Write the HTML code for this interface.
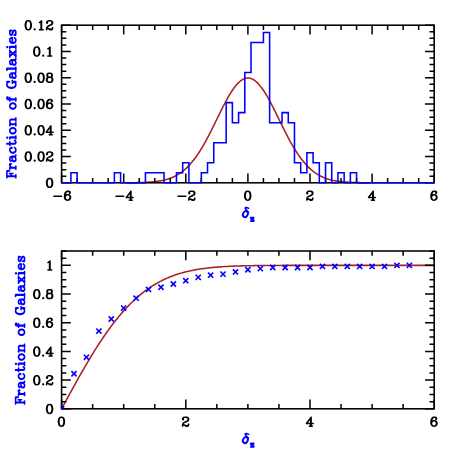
<!DOCTYPE html>
<html><head><meta charset="utf-8"><title>plot</title>
<style>html,body{margin:0;padding:0;background:#fff;}svg{display:block;}</style>
</head><body>
<svg width="458" height="458" viewBox="0 0 458 458">
<rect width="458" height="458" fill="#ffffff"/>
<polyline points="126.81,182.75 127.81,182.74 128.82,182.73 129.83,182.72 130.84,182.71 131.85,182.70 132.86,182.69 133.87,182.68 134.88,182.66 135.89,182.64 136.90,182.62 137.91,182.60 138.91,182.58 139.92,182.55 140.93,182.52 141.94,182.49 142.95,182.45 143.96,182.41 144.97,182.37 145.98,182.32 146.99,182.27 148.00,182.21 149.01,182.14 150.01,182.07 151.02,181.99 152.03,181.91 153.04,181.81 154.05,181.71 155.06,181.60 156.07,181.48 157.08,181.35 158.09,181.20 159.10,181.05 160.11,180.88 161.12,180.69 162.12,180.49 163.13,180.28 164.14,180.04 165.15,179.79 166.16,179.52 167.17,179.23 168.18,178.92 169.19,178.58 170.20,178.22 171.21,177.84 172.22,177.43 173.22,176.99 174.23,176.52 175.24,176.02 176.25,175.49 177.26,174.92 178.27,174.32 179.28,173.69 180.29,173.01 181.30,172.30 182.31,171.55 183.32,170.75 184.33,169.92 185.33,169.04 186.34,168.12 187.35,167.15 188.36,166.13 189.37,165.07 190.38,163.96 191.39,162.80 192.40,161.59 193.41,160.34 194.42,159.03 195.43,157.67 196.43,156.27 197.44,154.82 198.45,153.31 199.46,151.76 200.47,150.17 201.48,148.52 202.49,146.84 203.50,145.11 204.51,143.33 205.52,141.52 206.53,139.67 207.53,137.79 208.54,135.87 209.55,133.92 210.56,131.95 211.57,129.95 212.58,127.93 213.59,125.89 214.60,123.84 215.61,121.78 216.62,119.72 217.63,117.65 218.64,115.59 219.64,113.54 220.65,111.50 221.66,109.47 222.67,107.47 223.68,105.50 224.69,103.55 225.70,101.65 226.71,99.78 227.72,97.97 228.73,96.20 229.74,94.49 230.74,92.84 231.75,91.26 232.76,89.75 233.77,88.32 234.78,86.96 235.79,85.68 236.80,84.50 237.81,83.40 238.82,82.40 239.83,81.49 240.84,80.69 241.85,79.98 242.85,79.39 243.86,78.89 244.87,78.51 245.88,78.23 246.89,78.07 247.90,78.01 248.91,78.07 249.92,78.23 250.93,78.51 251.94,78.89 252.95,79.39 253.95,79.98 254.96,80.69 255.97,81.49 256.98,82.40 257.99,83.40 259.00,84.50 260.01,85.68 261.02,86.96 262.03,88.32 263.04,89.75 264.05,91.26 265.06,92.84 266.06,94.49 267.07,96.20 268.08,97.97 269.09,99.78 270.10,101.65 271.11,103.55 272.12,105.50 273.13,107.47 274.14,109.47 275.15,111.50 276.16,113.54 277.16,115.59 278.17,117.65 279.18,119.72 280.19,121.78 281.20,123.84 282.21,125.89 283.22,127.93 284.23,129.95 285.24,131.95 286.25,133.92 287.26,135.87 288.26,137.79 289.27,139.67 290.28,141.52 291.29,143.33 292.30,145.11 293.31,146.84 294.32,148.52 295.33,150.17 296.34,151.76 297.35,153.31 298.36,154.82 299.37,156.27 300.37,157.67 301.38,159.03 302.39,160.34 303.40,161.59 304.41,162.80 305.42,163.96 306.43,165.07 307.44,166.13 308.45,167.15 309.46,168.12 310.47,169.04 311.47,169.92 312.48,170.75 313.49,171.55 314.50,172.30 315.51,173.01 316.52,173.69 317.53,174.32 318.54,174.92 319.55,175.49 320.56,176.02 321.57,176.52 322.58,176.99 323.58,177.43 324.59,177.84 325.60,178.22 326.61,178.58 327.62,178.92 328.63,179.23 329.64,179.52 330.65,179.79 331.66,180.04 332.67,180.28 333.68,180.49 334.68,180.69 335.69,180.88 336.70,181.05 337.71,181.20 338.72,181.35 339.73,181.48 340.74,181.60 341.75,181.71 342.76,181.81 343.77,181.91 344.78,181.99 345.79,182.07 346.79,182.14 347.80,182.21 348.81,182.27 349.82,182.32 350.83,182.37 351.84,182.41 352.85,182.45 353.86,182.49 354.87,182.52 355.88,182.55 356.89,182.58 357.89,182.60 358.90,182.62 359.91,182.64 360.92,182.66 361.93,182.68 362.94,182.69 363.95,182.70 364.96,182.71 365.97,182.72 366.98,182.73 367.99,182.74 369.00,182.75" fill="none" stroke="#aa2024" stroke-width="1.55" stroke-linejoin="round"/>
<path d="M61.60 182.80v-9.2M61.60 25.20v9.2M77.12 182.80v-4.7M77.12 25.20v4.7M92.65 182.80v-4.7M92.65 25.20v4.7M108.17 182.80v-4.7M108.17 25.20v4.7M123.70 182.80v-9.2M123.70 25.20v9.2M139.22 182.80v-4.7M139.22 25.20v4.7M154.75 182.80v-4.7M154.75 25.20v4.7M170.28 182.80v-4.7M170.28 25.20v4.7M185.80 182.80v-9.2M185.80 25.20v9.2M201.32 182.80v-4.7M201.32 25.20v4.7M216.85 182.80v-4.7M216.85 25.20v4.7M232.37 182.80v-4.7M232.37 25.20v4.7M247.90 182.80v-9.2M247.90 25.20v9.2M263.42 182.80v-4.7M263.42 25.20v4.7M278.95 182.80v-4.7M278.95 25.20v4.7M294.47 182.80v-4.7M294.47 25.20v4.7M310.00 182.80v-9.2M310.00 25.20v9.2M325.53 182.80v-4.7M325.53 25.20v4.7M341.05 182.80v-4.7M341.05 25.20v4.7M356.57 182.80v-4.7M356.57 25.20v4.7M372.10 182.80v-9.2M372.10 25.20v9.2M387.62 182.80v-4.7M387.62 25.20v4.7M403.15 182.80v-4.7M403.15 25.20v4.7M418.68 182.80v-4.7M418.68 25.20v4.7M434.20 182.80v-9.2M434.20 25.20v9.2M61.60 182.80h9.2M434.20 182.80h-9.2M61.60 176.23h4.7M434.20 176.23h-4.7M61.60 169.67h4.7M434.20 169.67h-4.7M61.60 163.10h4.7M434.20 163.10h-4.7M61.60 156.53h9.2M434.20 156.53h-9.2M61.60 149.97h4.7M434.20 149.97h-4.7M61.60 143.40h4.7M434.20 143.40h-4.7M61.60 136.83h4.7M434.20 136.83h-4.7M61.60 130.27h9.2M434.20 130.27h-9.2M61.60 123.70h4.7M434.20 123.70h-4.7M61.60 117.13h4.7M434.20 117.13h-4.7M61.60 110.57h4.7M434.20 110.57h-4.7M61.60 104.00h9.2M434.20 104.00h-9.2M61.60 97.43h4.7M434.20 97.43h-4.7M61.60 90.87h4.7M434.20 90.87h-4.7M61.60 84.30h4.7M434.20 84.30h-4.7M61.60 77.73h9.2M434.20 77.73h-9.2M61.60 71.17h4.7M434.20 71.17h-4.7M61.60 64.60h4.7M434.20 64.60h-4.7M61.60 58.03h4.7M434.20 58.03h-4.7M61.60 51.47h9.2M434.20 51.47h-9.2M61.60 44.90h4.7M434.20 44.90h-4.7M61.60 38.33h4.7M434.20 38.33h-4.7M61.60 31.77h4.7M434.20 31.77h-4.7M61.60 25.20h9.2M434.20 25.20h-9.2" stroke="#000" stroke-width="1.5" fill="none"/>
<rect x="61.6" y="25.2" width="372.60" height="157.60" fill="none" stroke="#000" stroke-width="1.55"/>
<path d="M61.60 182.80L70.92 182.80L70.92 172.77L77.12 172.77L77.12 182.80L114.38 182.80L114.38 172.77L120.59 172.77L120.59 182.80L145.43 182.80L145.43 172.77L164.06 172.77L164.06 182.80L176.48 182.80L176.48 172.77L182.69 172.77L182.69 162.75L188.90 162.75L188.90 182.80L201.32 182.80L201.32 172.77L207.53 172.77L207.53 162.75L213.75 162.75L213.75 142.70L226.16 142.70L226.16 102.60L232.37 102.60L232.37 122.65L238.58 122.65L238.58 112.62L244.80 112.62L244.80 72.52L251.00 72.52L251.00 42.44L263.42 42.44L263.42 32.42L269.63 32.42L269.63 122.65L282.05 122.65L282.05 112.62L288.26 112.62L288.26 122.65L294.47 122.65L294.47 162.75L300.69 162.75L300.69 172.77L306.89 172.77L306.89 152.72L313.10 152.72L313.10 162.75L319.31 162.75L319.31 182.80L325.53 182.80L325.53 162.75L331.73 162.75L331.73 182.80L337.94 182.80L337.94 172.77L344.15 172.77L344.15 182.80L350.37 182.80L350.37 172.77L356.57 172.77L356.57 182.80L434.20 182.80" fill="none" stroke="#0000ff" stroke-width="1.55" stroke-linejoin="miter"/>
<polyline points="61.60,408.80 63.15,405.94 64.70,403.08 66.26,400.22 67.81,397.37 69.36,394.53 70.92,391.70 72.47,388.87 74.02,386.06 75.57,383.26 77.12,380.48 78.68,377.72 80.23,374.97 81.78,372.25 83.33,369.54 84.89,366.86 86.44,364.21 87.99,361.58 89.55,358.98 91.10,356.41 92.65,353.87 94.20,351.36 95.75,348.88 97.31,346.44 98.86,344.03 100.41,341.66 101.97,339.32 103.52,337.03 105.07,334.77 106.62,332.55 108.17,330.37 109.73,328.23 111.28,326.13 112.83,324.07 114.38,322.06 115.94,320.08 117.49,318.15 119.04,316.27 120.59,314.42 122.15,312.62 123.70,310.87 125.25,309.15 126.81,307.48 128.36,305.85 129.91,304.27 131.46,302.73 133.01,301.23 134.57,299.77 136.12,298.36 137.67,296.99 139.22,295.66 140.78,294.37 142.33,293.12 143.88,291.91 145.44,290.74 146.99,289.61 148.54,288.52 150.09,287.46 151.65,286.44 153.20,285.46 154.75,284.51 156.30,283.60 157.85,282.72 159.41,281.88 160.96,281.07 162.51,280.29 164.06,279.54 165.62,278.82 167.17,278.13 168.72,277.47 170.28,276.84 171.83,276.23 173.38,275.65 174.93,275.10 176.48,274.57 178.04,274.07 179.59,273.58 181.14,273.12 182.69,272.69 184.25,272.27 185.80,271.87 187.35,271.49 188.90,271.14 190.46,270.79 192.01,270.47 193.56,270.16 195.11,269.87 196.67,269.60 198.22,269.33 199.77,269.09 201.32,268.85 202.88,268.63 204.43,268.42 205.98,268.22 207.53,268.04 209.09,267.86 210.64,267.70 212.19,267.54 213.75,267.39 215.30,267.26 216.85,267.13 218.40,267.01 219.95,266.89 221.51,266.78 223.06,266.68 224.61,266.59 226.16,266.50 227.72,266.42 229.27,266.34 230.82,266.27 232.37,266.20 233.93,266.14 235.48,266.08 237.03,266.02 238.58,265.97 240.14,265.93 241.69,265.88 243.24,265.84 244.80,265.80 246.35,265.77 247.90,265.73 249.45,265.70 251.00,265.67 252.56,265.65 254.11,265.62 255.66,265.60 257.21,265.58 258.77,265.56 260.32,265.54 261.87,265.53 263.42,265.51 264.98,265.50 266.53,265.48 268.08,265.47 269.63,265.46 271.19,265.45 272.74,265.44 274.29,265.43 275.85,265.43 277.40,265.42 278.95,265.41 280.50,265.41 282.05,265.40 283.61,265.40 285.16,265.39 286.71,265.39 288.26,265.38 289.82,265.38 291.37,265.38 292.92,265.37 294.47,265.37 296.03,265.37 297.58,265.37 299.13,265.36 300.69,265.36 302.24,265.36 303.79,265.36 305.34,265.36 306.89,265.36 308.45,265.36 310.00,265.35 311.55,265.35 313.10,265.35 314.66,265.35 316.21,265.35 317.76,265.35 319.31,265.35 320.87,265.35 322.42,265.35 323.97,265.35 325.53,265.35 327.08,265.35 328.63,265.35 330.18,265.35 331.73,265.35 333.29,265.35 334.84,265.35 336.39,265.35 337.94,265.35 339.50,265.35 341.05,265.35 342.60,265.35 344.15,265.35 345.71,265.35 347.26,265.35 348.81,265.35 350.37,265.35 351.92,265.35 353.47,265.35 355.02,265.35 356.57,265.35 358.13,265.35 359.68,265.35 361.23,265.35 362.78,265.35 364.34,265.35 365.89,265.35 367.44,265.35 369.00,265.35 370.55,265.35 372.10,265.35 373.65,265.35 375.20,265.35 376.76,265.35 378.31,265.35 379.86,265.35 381.42,265.35 382.97,265.35 384.52,265.35 386.07,265.35 387.62,265.35 389.18,265.35 390.73,265.35 392.28,265.35 393.83,265.35 395.39,265.35 396.94,265.35 398.49,265.35 400.05,265.35 401.60,265.35 403.15,265.35 404.70,265.35 406.25,265.35 407.81,265.35 409.36,265.35 410.91,265.35 412.47,265.35 414.02,265.35 415.57,265.35 417.12,265.35 418.68,265.35 420.23,265.35 421.78,265.35 423.33,265.35 424.88,265.35 426.44,265.35 427.99,265.35 429.54,265.35 431.09,265.35 432.65,265.35 434.20,265.35" fill="none" stroke="#aa2024" stroke-width="1.55" stroke-linejoin="round"/>
<path d="M61.60 408.80v-9.2M61.60 251.00v9.2M92.65 408.80v-4.7M92.65 251.00v4.7M123.70 408.80v-4.7M123.70 251.00v4.7M154.75 408.80v-4.7M154.75 251.00v4.7M185.80 408.80v-9.2M185.80 251.00v9.2M216.85 408.80v-4.7M216.85 251.00v4.7M247.90 408.80v-4.7M247.90 251.00v4.7M278.95 408.80v-4.7M278.95 251.00v4.7M310.00 408.80v-9.2M310.00 251.00v9.2M341.05 408.80v-4.7M341.05 251.00v4.7M372.10 408.80v-4.7M372.10 251.00v4.7M403.15 408.80v-4.7M403.15 251.00v4.7M434.20 408.80v-9.2M434.20 251.00v9.2M61.60 408.80h9.2M434.20 408.80h-9.2M61.60 401.63h4.7M434.20 401.63h-4.7M61.60 394.45h4.7M434.20 394.45h-4.7M61.60 387.28h4.7M434.20 387.28h-4.7M61.60 380.11h9.2M434.20 380.11h-9.2M61.60 372.94h4.7M434.20 372.94h-4.7M61.60 365.76h4.7M434.20 365.76h-4.7M61.60 358.59h4.7M434.20 358.59h-4.7M61.60 351.42h9.2M434.20 351.42h-9.2M61.60 344.25h4.7M434.20 344.25h-4.7M61.60 337.07h4.7M434.20 337.07h-4.7M61.60 329.90h4.7M434.20 329.90h-4.7M61.60 322.73h9.2M434.20 322.73h-9.2M61.60 315.55h4.7M434.20 315.55h-4.7M61.60 308.38h4.7M434.20 308.38h-4.7M61.60 301.21h4.7M434.20 301.21h-4.7M61.60 294.04h9.2M434.20 294.04h-9.2M61.60 286.86h4.7M434.20 286.86h-4.7M61.60 279.69h4.7M434.20 279.69h-4.7M61.60 272.52h4.7M434.20 272.52h-4.7M61.60 265.35h9.2M434.20 265.35h-9.2M61.60 258.17h4.7M434.20 258.17h-4.7M61.60 251.00h4.7M434.20 251.00h-4.7" stroke="#000" stroke-width="1.5" fill="none"/>
<rect x="61.6" y="251.0" width="372.60" height="157.80" fill="none" stroke="#000" stroke-width="1.55"/>
<clipPath id="cb"><rect x="60.800000000000004" y="251.0" width="374.20" height="158.60"/></clipPath>
<path d="M59.00 406.20l5.2 5.2M59.00 411.40l5.2 -5.2M71.42 371.16l5.2 5.2M71.42 376.36l5.2 -5.2M83.84 354.73l5.2 5.2M83.84 359.93l5.2 -5.2M96.26 328.45l5.2 5.2M96.26 333.65l5.2 -5.2M108.68 316.40l5.2 5.2M108.68 321.60l5.2 -5.2M121.10 305.45l5.2 5.2M121.10 310.65l5.2 -5.2M133.52 295.60l5.2 5.2M133.52 300.80l5.2 -5.2M145.94 286.84l5.2 5.2M145.94 292.04l5.2 -5.2M158.36 284.65l5.2 5.2M158.36 289.85l5.2 -5.2M170.78 281.36l5.2 5.2M170.78 286.56l5.2 -5.2M183.20 278.08l5.2 5.2M183.20 283.28l5.2 -5.2M195.62 274.79l5.2 5.2M195.62 279.99l5.2 -5.2M208.04 272.60l5.2 5.2M208.04 277.80l5.2 -5.2M220.46 271.51l5.2 5.2M220.46 276.71l5.2 -5.2M232.88 269.32l5.2 5.2M232.88 274.52l5.2 -5.2M245.30 267.13l5.2 5.2M245.30 272.33l5.2 -5.2M257.72 266.03l5.2 5.2M257.72 271.23l5.2 -5.2M270.14 264.94l5.2 5.2M270.14 270.14l5.2 -5.2M282.56 264.94l5.2 5.2M282.56 270.14l5.2 -5.2M294.98 264.94l5.2 5.2M294.98 270.14l5.2 -5.2M307.40 264.94l5.2 5.2M307.40 270.14l5.2 -5.2M319.82 263.84l5.2 5.2M319.82 269.04l5.2 -5.2M332.24 263.84l5.2 5.2M332.24 269.04l5.2 -5.2M344.66 263.84l5.2 5.2M344.66 269.04l5.2 -5.2M357.08 263.84l5.2 5.2M357.08 269.04l5.2 -5.2M369.50 263.84l5.2 5.2M369.50 269.04l5.2 -5.2M381.92 263.84l5.2 5.2M381.92 269.04l5.2 -5.2M394.34 262.75l5.2 5.2M394.34 267.95l5.2 -5.2M406.76 262.75l5.2 5.2M406.76 267.95l5.2 -5.2" fill="none" stroke="#0000ff" stroke-width="1.6" clip-path="url(#cb)"/>
<defs>
<path id="t0" d="M3.59 -9.66L2.22 -9.16L1.91 -8.84L1.66 -8.41L1.09 -7.66L1.09 -7.53L0.97 -7.28L0.97 -7.03L0.91 -6.97L0.91 -6.72L0.84 -6.66L0.84 -6.41L0.78 -6.34L0.78 -6.09L0.72 -6.03L0.59 -5.16L0.53 -5.09L0.53 -3.78L0.59 -3.72L0.59 -3.47L0.66 -3.41L0.66 -3.16L0.72 -3.09L0.72 -2.84L0.78 -2.78L0.78 -2.53L0.84 -2.47L0.84 -2.22L0.91 -2.16L0.91 -1.91L0.97 -1.84L1.03 -1.41L1.59 -0.59L1.91 -0.03L2.28 0.22L2.34 0.34L2.47 0.34L3.47 0.72L3.78 0.72L3.84 0.78L4.72 0.78L4.78 0.72L5.09 0.72L5.16 0.66L6.22 0.34L6.66 0.03L6.97 -0.53L7.47 -1.22L7.47 -1.34L7.66 -1.66L7.66 -1.91L7.72 -1.97L7.72 -2.22L7.78 -2.28L7.78 -2.53L7.84 -2.59L7.84 -2.84L7.91 -2.91L7.91 -3.16L7.97 -3.22L7.97 -3.47L8.03 -3.53L8.03 -3.66L7.97 -3.72L8.03 -3.78L8.03 -5.09L7.97 -5.16L8.03 -5.22L8.03 -5.34L7.97 -5.41L7.97 -5.66L7.84 -5.97L7.84 -6.22L7.78 -6.28L7.66 -7.16L7.47 -7.53L7.47 -7.72L7.03 -8.28L6.66 -8.91L6.41 -9.16L5.03 -9.66L4.91 -9.59L4.78 -9.59L4.72 -9.66L3.84 -9.66L3.72 -9.59ZM3.97 -8.16L4.66 -8.16L5.03 -7.97L5.41 -7.59L5.78 -6.84L5.78 -6.59L5.84 -6.53L5.84 -6.28L5.91 -6.22L5.91 -5.97L5.97 -5.91L5.97 -5.66L6.03 -5.59L6.03 -5.34L6.09 -5.28L6.09 -3.66L6.03 -3.59L6.03 -3.34L5.97 -3.28L5.97 -3.03L5.91 -2.97L5.78 -2.09L5.41 -1.28L5.16 -1.03L4.59 -0.72L4.03 -0.72L3.41 -1.03L3.22 -1.22L2.84 -2.03L2.84 -2.28L2.78 -2.34L2.78 -2.59L2.72 -2.66L2.59 -3.53L2.47 -3.84L2.47 -5.03L2.53 -5.09L2.53 -5.34L2.59 -5.41L2.59 -5.66L2.66 -5.72L2.66 -5.97L2.72 -6.03L2.84 -6.91L3.22 -7.66L3.47 -7.91Z" fill-rule="evenodd"/>
<path id="t1" d="M10.72 -1.59L10.66 -1.53L10.47 -1.53L10.16 -1.34L9.72 -0.91L9.53 -0.41L9.59 -0.34L9.59 -0.16L9.78 0.09L9.72 0.16L10.09 0.53L10.22 0.53L10.34 0.66L10.66 0.72L10.72 0.78L10.78 0.72L10.97 0.72L11.28 0.53L11.66 0.16L11.84 -0.16L11.84 -0.34L11.91 -0.41L11.84 -0.47L11.78 -0.78L11.09 -1.47L10.78 -1.53ZM23.41 -9.28L22.97 -9.03L22.53 -8.59L21.97 -7.59L22.03 -7.53L21.91 -7.22L21.91 -6.78L21.97 -6.72L21.97 -6.53L22.53 -5.84L22.84 -5.66L23.03 -5.66L23.09 -5.59L23.16 -5.66L23.34 -5.66L23.47 -5.72L24.16 -6.41L24.22 -6.72L24.28 -6.78L24.22 -6.84L24.22 -7.03L24.03 -7.34L23.72 -7.66L24.03 -7.91L24.16 -7.91L24.78 -8.16L26.41 -8.16L26.91 -7.91L27.16 -7.66L27.47 -7.03L27.47 -6.53L27.28 -6.16L26.97 -5.84L26.22 -5.34L23.66 -4.09L22.53 -3.03L22.47 -2.84L22.34 -2.72L22.34 -2.59L21.97 -1.59L21.97 -1.28L21.91 -1.22L21.91 0.03L21.97 0.09L21.97 0.28L22.03 0.41L22.41 0.72L22.59 0.72L22.66 0.78L22.72 0.72L22.91 0.72L23.03 0.66L23.34 0.28L23.34 0.09L23.41 0.03L23.41 -0.41L23.47 -0.47L23.78 -0.47L24.34 -0.09L24.53 -0.03L24.66 0.09L24.84 0.16L24.97 0.28L25.16 0.34L25.28 0.47L25.47 0.53L25.59 0.66L25.78 0.66L26.09 0.78L27.78 0.78L27.84 0.72L28.03 0.72L28.34 0.53L28.72 0.16L28.72 0.09L28.91 -0.03L29.34 -0.97L29.34 -1.16L29.41 -1.22L29.41 -2.09L29.34 -2.16L29.28 -2.47L29.03 -2.72L28.72 -2.78L28.66 -2.84L28.59 -2.78L28.28 -2.72L27.97 -2.34L27.97 -2.16L27.91 -2.09L27.91 -1.59L27.72 -1.41L27.22 -1.16L26.16 -1.16L25.47 -1.47L25.34 -1.47L25.16 -1.59L25.03 -1.59L24.84 -1.72L24.72 -1.72L24.53 -1.84L24.41 -1.84L24.22 -1.97L24.16 -1.91L23.78 -1.97L23.72 -2.09L24.41 -2.78L25.28 -3.22L25.41 -3.22L25.59 -3.34L25.72 -3.34L25.91 -3.47L26.03 -3.47L26.22 -3.59L26.34 -3.59L26.53 -3.72L26.97 -3.84L27.47 -4.09L27.66 -4.28L28.66 -4.91L28.66 -4.97L28.91 -5.16L29.28 -5.91L29.34 -6.28L29.41 -6.34L29.41 -7.22L29.34 -7.28L29.28 -7.66L28.91 -8.41L28.34 -9.03L27.91 -9.28L27.78 -9.28L26.78 -9.66L26.66 -9.59L26.53 -9.66L24.78 -9.66L24.72 -9.59L24.59 -9.59L24.53 -9.66L24.47 -9.59ZM16.41 -9.66L15.03 -9.16L14.72 -8.84L14.47 -8.41L13.91 -7.66L13.91 -7.53L13.78 -7.28L13.78 -7.03L13.72 -6.97L13.59 -6.09L13.47 -5.78L13.41 -5.16L13.34 -5.09L13.34 -3.78L13.41 -3.72L13.41 -3.41L13.47 -3.34L13.47 -3.09L13.53 -3.03L13.53 -2.78L13.59 -2.72L13.59 -2.47L13.66 -2.41L13.78 -1.53L14.72 -0.03L15.09 0.22L15.16 0.34L15.28 0.34L16.28 0.72L16.59 0.72L16.66 0.78L17.53 0.78L17.59 0.72L17.91 0.72L17.97 0.66L19.03 0.34L19.47 0.03L19.66 -0.34L20.28 -1.22L20.28 -1.34L20.47 -1.72L20.47 -1.97L20.53 -2.03L20.53 -2.28L20.59 -2.34L20.59 -2.59L20.66 -2.66L20.66 -2.91L20.72 -2.97L20.72 -3.22L20.78 -3.28L20.78 -3.53L20.84 -3.59L20.78 -3.72L20.84 -3.78L20.84 -5.09L20.78 -5.16L20.84 -5.28L20.78 -5.34L20.78 -5.59L20.72 -5.66L20.72 -5.91L20.66 -5.97L20.66 -6.22L20.59 -6.28L20.47 -7.16L20.28 -7.53L20.28 -7.72L19.97 -8.09L19.47 -8.91L19.22 -9.16L17.84 -9.66L17.72 -9.59L17.59 -9.59L17.53 -9.66L16.66 -9.66L16.53 -9.59ZM16.78 -8.16L17.47 -8.16L17.84 -7.97L18.22 -7.59L18.59 -6.78L18.59 -6.53L18.66 -6.47L18.66 -6.22L18.72 -6.16L18.72 -5.91L18.78 -5.84L18.78 -5.59L18.84 -5.53L18.84 -5.28L18.91 -5.22L18.91 -3.66L18.78 -3.34L18.78 -3.09L18.72 -3.03L18.72 -2.78L18.66 -2.72L18.66 -2.47L18.59 -2.41L18.53 -1.91L18.22 -1.28L17.97 -1.03L17.41 -0.72L16.84 -0.72L16.22 -1.03L16.03 -1.22L15.66 -1.97L15.66 -2.22L15.59 -2.28L15.59 -2.53L15.53 -2.59L15.53 -2.84L15.47 -2.91L15.47 -3.16L15.41 -3.22L15.41 -3.47L15.34 -3.53L15.34 -3.78L15.28 -3.84L15.28 -5.09L15.34 -5.16L15.34 -5.41L15.41 -5.47L15.41 -5.72L15.47 -5.78L15.47 -6.03L15.53 -6.09L15.53 -6.34L15.59 -6.41L15.66 -6.91L16.03 -7.66L16.28 -7.91ZM3.59 -9.66L2.22 -9.16L1.91 -8.84L1.66 -8.41L1.09 -7.66L1.09 -7.53L0.97 -7.28L0.97 -7.03L0.91 -6.97L0.91 -6.72L0.84 -6.66L0.84 -6.41L0.78 -6.34L0.78 -6.09L0.72 -6.03L0.59 -5.16L0.53 -5.09L0.53 -3.78L0.59 -3.72L0.59 -3.47L0.66 -3.41L0.66 -3.16L0.72 -3.09L0.72 -2.84L0.78 -2.78L0.78 -2.53L0.84 -2.47L0.84 -2.22L0.91 -2.16L0.91 -1.91L0.97 -1.84L1.03 -1.41L1.59 -0.59L1.91 -0.03L2.28 0.22L2.34 0.34L2.47 0.34L3.47 0.72L3.78 0.72L3.84 0.78L4.72 0.78L4.78 0.72L5.09 0.72L5.16 0.66L6.22 0.34L6.66 0.03L6.97 -0.53L7.47 -1.22L7.47 -1.34L7.66 -1.66L7.66 -1.91L7.72 -1.97L7.72 -2.22L7.78 -2.28L7.78 -2.53L7.84 -2.59L7.84 -2.84L7.91 -2.91L7.91 -3.16L7.97 -3.22L7.97 -3.47L8.03 -3.53L8.03 -3.66L7.97 -3.72L8.03 -3.78L8.03 -5.09L7.97 -5.16L8.03 -5.22L8.03 -5.34L7.97 -5.41L7.97 -5.66L7.84 -5.97L7.84 -6.22L7.78 -6.28L7.66 -7.16L7.47 -7.53L7.47 -7.72L7.03 -8.28L6.66 -8.91L6.41 -9.16L5.03 -9.66L4.91 -9.59L4.78 -9.59L4.72 -9.66L3.84 -9.66L3.72 -9.59ZM3.97 -8.16L4.66 -8.16L5.03 -7.97L5.41 -7.59L5.78 -6.84L5.78 -6.59L5.84 -6.53L5.84 -6.28L5.91 -6.22L5.91 -5.97L5.97 -5.91L5.97 -5.66L6.03 -5.59L6.03 -5.34L6.09 -5.28L6.09 -3.66L6.03 -3.59L6.03 -3.34L5.97 -3.28L5.97 -3.03L5.91 -2.97L5.78 -2.09L5.41 -1.28L5.16 -1.03L4.59 -0.72L4.03 -0.72L3.41 -1.03L3.22 -1.22L2.84 -2.03L2.84 -2.28L2.78 -2.34L2.78 -2.59L2.72 -2.66L2.59 -3.53L2.47 -3.84L2.47 -5.03L2.53 -5.09L2.53 -5.34L2.59 -5.41L2.59 -5.66L2.66 -5.72L2.66 -5.97L2.72 -6.03L2.84 -6.91L3.22 -7.66L3.47 -7.91Z" fill-rule="evenodd"/>
<path id="t2" d="M10.72 -1.59L10.66 -1.53L10.47 -1.53L10.16 -1.34L9.72 -0.91L9.53 -0.41L9.59 -0.34L9.59 -0.16L9.78 0.09L9.72 0.16L10.09 0.53L10.22 0.53L10.34 0.66L10.66 0.72L10.72 0.78L10.78 0.72L10.97 0.72L11.28 0.53L11.66 0.16L11.84 -0.16L11.84 -0.34L11.91 -0.41L11.84 -0.47L11.78 -0.78L11.09 -1.47L10.78 -1.53ZM26.91 -9.66L26.84 -9.59L26.53 -9.53L26.22 -9.28L25.66 -8.53L25.53 -8.28L24.97 -7.59L24.84 -7.34L24.28 -6.66L24.16 -6.41L23.59 -5.72L23.47 -5.47L22.91 -4.78L22.78 -4.53L22.22 -3.84L22.09 -3.59L21.72 -3.16L21.47 -2.53L21.53 -2.47L21.59 -2.16L21.84 -1.91L22.16 -1.84L22.22 -1.78L25.72 -1.78L25.78 -1.72L25.78 -0.78L25.72 -0.72L25.22 -0.72L25.16 -0.66L24.84 -0.59L24.59 -0.34L24.53 -0.03L24.47 0.03L24.53 0.09L24.59 0.41L24.84 0.66L25.16 0.72L25.22 0.78L28.22 0.78L28.28 0.72L28.59 0.66L28.91 0.28L28.91 0.09L28.97 0.03L28.91 -0.03L28.91 -0.22L28.84 -0.34L28.47 -0.66L28.28 -0.66L28.22 -0.72L27.72 -0.72L27.66 -0.78L27.66 -1.72L27.72 -1.78L29.09 -1.78L29.16 -1.84L29.34 -1.84L29.72 -2.16L29.78 -2.47L29.84 -2.53L29.78 -2.59L29.72 -2.91L29.34 -3.22L29.16 -3.22L29.09 -3.28L27.72 -3.28L27.66 -3.34L27.66 -8.91L27.59 -8.97L27.53 -9.28L27.28 -9.53L26.97 -9.59ZM25.72 -5.97L25.78 -5.91L25.78 -3.34L25.72 -3.28L23.84 -3.28L23.78 -3.34ZM16.41 -9.66L15.03 -9.16L14.72 -8.84L14.47 -8.41L13.91 -7.66L13.91 -7.53L13.78 -7.28L13.78 -7.03L13.72 -6.97L13.59 -6.09L13.47 -5.78L13.41 -5.16L13.34 -5.09L13.34 -3.78L13.41 -3.72L13.41 -3.41L13.47 -3.34L13.47 -3.09L13.53 -3.03L13.53 -2.78L13.59 -2.72L13.59 -2.47L13.66 -2.41L13.78 -1.53L14.72 -0.03L15.09 0.22L15.16 0.34L15.28 0.34L16.28 0.72L16.59 0.72L16.66 0.78L17.53 0.78L17.59 0.72L17.91 0.72L17.97 0.66L19.03 0.34L19.47 0.03L19.66 -0.34L20.28 -1.22L20.28 -1.34L20.47 -1.72L20.47 -1.97L20.53 -2.03L20.53 -2.28L20.59 -2.34L20.59 -2.59L20.66 -2.66L20.66 -2.91L20.72 -2.97L20.72 -3.22L20.78 -3.28L20.78 -3.53L20.84 -3.59L20.78 -3.72L20.84 -3.78L20.84 -5.09L20.78 -5.16L20.84 -5.28L20.78 -5.34L20.78 -5.59L20.72 -5.66L20.72 -5.91L20.66 -5.97L20.66 -6.22L20.59 -6.28L20.47 -7.16L20.28 -7.53L20.28 -7.72L19.97 -8.09L19.47 -8.91L19.22 -9.16L17.84 -9.66L17.72 -9.59L17.59 -9.59L17.53 -9.66L16.66 -9.66L16.53 -9.59ZM16.78 -8.16L17.47 -8.16L17.84 -7.97L18.22 -7.59L18.59 -6.78L18.59 -6.53L18.66 -6.47L18.66 -6.22L18.72 -6.16L18.72 -5.91L18.78 -5.84L18.78 -5.59L18.84 -5.53L18.84 -5.28L18.91 -5.22L18.91 -3.66L18.78 -3.34L18.78 -3.09L18.72 -3.03L18.72 -2.78L18.66 -2.72L18.66 -2.47L18.59 -2.41L18.53 -1.91L18.22 -1.28L17.97 -1.03L17.41 -0.72L16.84 -0.72L16.22 -1.03L16.03 -1.22L15.66 -1.97L15.66 -2.22L15.59 -2.28L15.59 -2.53L15.53 -2.59L15.53 -2.84L15.47 -2.91L15.47 -3.16L15.41 -3.22L15.41 -3.47L15.34 -3.53L15.34 -3.78L15.28 -3.84L15.28 -5.09L15.34 -5.16L15.34 -5.41L15.41 -5.47L15.41 -5.72L15.47 -5.78L15.47 -6.03L15.53 -6.09L15.53 -6.34L15.59 -6.41L15.66 -6.91L16.03 -7.66L16.28 -7.91ZM3.59 -9.66L2.22 -9.16L1.91 -8.84L1.66 -8.41L1.09 -7.66L1.09 -7.53L0.97 -7.28L0.97 -7.03L0.91 -6.97L0.91 -6.72L0.84 -6.66L0.84 -6.41L0.78 -6.34L0.78 -6.09L0.72 -6.03L0.59 -5.16L0.53 -5.09L0.53 -3.78L0.59 -3.72L0.59 -3.47L0.66 -3.41L0.66 -3.16L0.72 -3.09L0.72 -2.84L0.78 -2.78L0.78 -2.53L0.84 -2.47L0.84 -2.22L0.91 -2.16L0.91 -1.91L0.97 -1.84L1.03 -1.41L1.59 -0.59L1.91 -0.03L2.28 0.22L2.34 0.34L2.47 0.34L3.47 0.72L3.78 0.72L3.84 0.78L4.72 0.78L4.78 0.72L5.09 0.72L5.16 0.66L6.22 0.34L6.66 0.03L6.97 -0.53L7.47 -1.22L7.47 -1.34L7.66 -1.66L7.66 -1.91L7.72 -1.97L7.72 -2.22L7.78 -2.28L7.78 -2.53L7.84 -2.59L7.84 -2.84L7.91 -2.91L7.91 -3.16L7.97 -3.22L7.97 -3.47L8.03 -3.53L8.03 -3.66L7.97 -3.72L8.03 -3.78L8.03 -5.09L7.97 -5.16L8.03 -5.22L8.03 -5.34L7.97 -5.41L7.97 -5.66L7.84 -5.97L7.84 -6.22L7.78 -6.28L7.66 -7.16L7.47 -7.53L7.47 -7.72L7.03 -8.28L6.66 -8.91L6.41 -9.16L5.03 -9.66L4.91 -9.59L4.78 -9.59L4.72 -9.66L3.84 -9.66L3.72 -9.59ZM3.97 -8.16L4.66 -8.16L5.03 -7.97L5.41 -7.59L5.78 -6.84L5.78 -6.59L5.84 -6.53L5.84 -6.28L5.91 -6.22L5.91 -5.97L5.97 -5.91L5.97 -5.66L6.03 -5.59L6.03 -5.34L6.09 -5.28L6.09 -3.66L6.03 -3.59L6.03 -3.34L5.97 -3.28L5.97 -3.03L5.91 -2.97L5.78 -2.09L5.41 -1.28L5.16 -1.03L4.59 -0.72L4.03 -0.72L3.41 -1.03L3.22 -1.22L2.84 -2.03L2.84 -2.28L2.78 -2.34L2.78 -2.59L2.72 -2.66L2.59 -3.53L2.47 -3.84L2.47 -5.03L2.53 -5.09L2.53 -5.34L2.59 -5.41L2.59 -5.66L2.66 -5.72L2.66 -5.97L2.72 -6.03L2.84 -6.91L3.22 -7.66L3.47 -7.91Z" fill-rule="evenodd"/>
<path id="t3" d="M10.72 -1.59L10.66 -1.53L10.47 -1.53L10.16 -1.34L9.72 -0.91L9.53 -0.41L9.59 -0.34L9.59 -0.16L9.78 0.09L9.72 0.16L10.09 0.53L10.22 0.53L10.34 0.66L10.66 0.72L10.72 0.78L10.78 0.72L10.97 0.72L11.28 0.53L11.66 0.16L11.84 -0.16L11.84 -0.34L11.91 -0.41L11.84 -0.47L11.78 -0.78L11.09 -1.47L10.78 -1.53ZM26.91 -9.66L25.66 -9.66L25.59 -9.59L25.47 -9.59L25.41 -9.66L25.34 -9.59L25.22 -9.59L25.16 -9.53L25.03 -9.53L24.97 -9.47L23.97 -9.16L22.97 -8.16L22.72 -7.78L22.41 -7.16L22.47 -7.09L22.34 -6.97L22.22 -6.28L22.09 -6.03L22.09 -5.84L22.03 -5.78L22.03 -5.59L21.91 -5.28L21.97 -5.22L21.91 -5.09L21.91 -2.53L21.97 -2.47L21.97 -2.16L22.03 -2.09L22.34 -1.03L22.47 -0.91L22.53 -0.72L23.41 0.16L23.47 0.09L23.66 0.22L23.72 0.34L23.84 0.34L24.84 0.72L25.16 0.72L25.22 0.78L26.09 0.78L26.16 0.72L26.47 0.72L26.53 0.66L27.59 0.34L27.59 0.28L27.84 0.09L27.91 0.16L28.84 -0.84L28.97 -1.09L28.97 -1.22L29.34 -2.22L29.34 -2.47L29.41 -2.53L29.34 -3.28L29.28 -3.34L28.97 -4.41L28.72 -4.78L27.91 -5.59L27.66 -5.72L27.59 -5.84L27.47 -5.84L26.47 -6.22L26.16 -6.22L26.09 -6.28L25.34 -6.22L24.16 -5.78L24.03 -5.84L24.09 -5.91L24.22 -6.59L24.47 -7.09L25.28 -7.91L25.78 -8.16L26.84 -8.16L27.03 -8.03L26.66 -7.47L26.66 -7.28L26.59 -7.22L26.66 -7.16L26.66 -6.97L26.72 -6.84L27.41 -6.16L27.53 -6.09L27.72 -6.09L27.78 -6.03L27.84 -6.09L28.16 -6.16L28.34 -6.28L28.84 -6.84L28.91 -7.16L28.97 -7.22L28.97 -7.66L28.91 -7.72L28.91 -7.97L28.47 -8.84L28.09 -9.22L27.34 -9.59L27.22 -9.53ZM25.72 -4.78L25.91 -4.78L26.41 -4.53L27.16 -3.78L27.41 -2.97L27.47 -2.91L27.47 -2.59L27.41 -2.53L27.16 -1.66L26.53 -1.03L25.91 -0.72L25.41 -0.72L24.78 -1.03L24.16 -1.66L24.16 -1.78L23.84 -2.59L23.84 -2.91L23.91 -2.97L24.16 -3.78L24.84 -4.47L25.66 -4.72ZM16.41 -9.66L15.03 -9.16L14.72 -8.84L14.47 -8.41L13.91 -7.66L13.91 -7.53L13.78 -7.28L13.78 -7.03L13.72 -6.97L13.59 -6.09L13.47 -5.78L13.41 -5.16L13.34 -5.09L13.34 -3.78L13.41 -3.72L13.41 -3.41L13.47 -3.34L13.47 -3.09L13.53 -3.03L13.53 -2.78L13.59 -2.72L13.59 -2.47L13.66 -2.41L13.78 -1.53L14.72 -0.03L15.09 0.22L15.16 0.34L15.28 0.34L16.28 0.72L16.59 0.72L16.66 0.78L17.53 0.78L17.59 0.72L17.91 0.72L17.97 0.66L19.03 0.34L19.47 0.03L19.66 -0.34L20.28 -1.22L20.28 -1.34L20.47 -1.72L20.47 -1.97L20.53 -2.03L20.53 -2.28L20.59 -2.34L20.59 -2.59L20.66 -2.66L20.66 -2.91L20.72 -2.97L20.72 -3.22L20.78 -3.28L20.78 -3.53L20.84 -3.59L20.78 -3.72L20.84 -3.78L20.84 -5.09L20.78 -5.16L20.84 -5.28L20.78 -5.34L20.78 -5.59L20.72 -5.66L20.72 -5.91L20.66 -5.97L20.66 -6.22L20.59 -6.28L20.47 -7.16L20.28 -7.53L20.28 -7.72L19.97 -8.09L19.47 -8.91L19.22 -9.16L17.84 -9.66L17.72 -9.59L17.59 -9.59L17.53 -9.66L16.66 -9.66L16.53 -9.59ZM16.78 -8.16L17.47 -8.16L17.84 -7.97L18.22 -7.59L18.59 -6.78L18.59 -6.53L18.66 -6.47L18.66 -6.22L18.72 -6.16L18.72 -5.91L18.78 -5.84L18.78 -5.59L18.84 -5.53L18.84 -5.28L18.91 -5.22L18.91 -3.66L18.78 -3.34L18.78 -3.09L18.72 -3.03L18.72 -2.78L18.66 -2.72L18.66 -2.47L18.59 -2.41L18.53 -1.91L18.22 -1.28L17.97 -1.03L17.41 -0.72L16.84 -0.72L16.22 -1.03L16.03 -1.22L15.66 -1.97L15.66 -2.22L15.59 -2.28L15.59 -2.53L15.53 -2.59L15.53 -2.84L15.47 -2.91L15.47 -3.16L15.41 -3.22L15.41 -3.47L15.34 -3.53L15.34 -3.78L15.28 -3.84L15.28 -5.09L15.34 -5.16L15.34 -5.41L15.41 -5.47L15.41 -5.72L15.47 -5.78L15.47 -6.03L15.53 -6.09L15.53 -6.34L15.59 -6.41L15.66 -6.91L16.03 -7.66L16.28 -7.91ZM3.59 -9.66L2.22 -9.16L1.91 -8.84L1.66 -8.41L1.09 -7.66L1.09 -7.53L0.97 -7.28L0.97 -7.03L0.91 -6.97L0.91 -6.72L0.84 -6.66L0.84 -6.41L0.78 -6.34L0.78 -6.09L0.72 -6.03L0.59 -5.16L0.53 -5.09L0.53 -3.78L0.59 -3.72L0.59 -3.47L0.66 -3.41L0.66 -3.16L0.72 -3.09L0.72 -2.84L0.78 -2.78L0.78 -2.53L0.84 -2.47L0.84 -2.22L0.91 -2.16L0.91 -1.91L0.97 -1.84L1.03 -1.41L1.59 -0.59L1.91 -0.03L2.28 0.22L2.34 0.34L2.47 0.34L3.47 0.72L3.78 0.72L3.84 0.78L4.72 0.78L4.78 0.72L5.09 0.72L5.16 0.66L6.22 0.34L6.66 0.03L6.97 -0.53L7.47 -1.22L7.47 -1.34L7.66 -1.66L7.66 -1.91L7.72 -1.97L7.72 -2.22L7.78 -2.28L7.78 -2.53L7.84 -2.59L7.84 -2.84L7.91 -2.91L7.91 -3.16L7.97 -3.22L7.97 -3.47L8.03 -3.53L8.03 -3.66L7.97 -3.72L8.03 -3.78L8.03 -5.09L7.97 -5.16L8.03 -5.22L8.03 -5.34L7.97 -5.41L7.97 -5.66L7.84 -5.97L7.84 -6.22L7.78 -6.28L7.66 -7.16L7.47 -7.53L7.47 -7.72L7.03 -8.28L6.66 -8.91L6.41 -9.16L5.03 -9.66L4.91 -9.59L4.78 -9.59L4.72 -9.66L3.84 -9.66L3.72 -9.59ZM3.97 -8.16L4.66 -8.16L5.03 -7.97L5.41 -7.59L5.78 -6.84L5.78 -6.59L5.84 -6.53L5.84 -6.28L5.91 -6.22L5.91 -5.97L5.97 -5.91L5.97 -5.66L6.03 -5.59L6.03 -5.34L6.09 -5.28L6.09 -3.66L6.03 -3.59L6.03 -3.34L5.97 -3.28L5.97 -3.03L5.91 -2.97L5.78 -2.09L5.41 -1.28L5.16 -1.03L4.59 -0.72L4.03 -0.72L3.41 -1.03L3.22 -1.22L2.84 -2.03L2.84 -2.28L2.78 -2.34L2.78 -2.59L2.72 -2.66L2.59 -3.53L2.47 -3.84L2.47 -5.03L2.53 -5.09L2.53 -5.34L2.59 -5.41L2.59 -5.66L2.66 -5.72L2.66 -5.97L2.72 -6.03L2.84 -6.91L3.22 -7.66L3.47 -7.91Z" fill-rule="evenodd"/>
<path id="t4" d="M10.72 -1.59L10.66 -1.53L10.47 -1.53L10.16 -1.34L9.72 -0.91L9.53 -0.41L9.59 -0.34L9.59 -0.16L9.78 0.09L9.72 0.16L10.09 0.53L10.22 0.53L10.34 0.66L10.66 0.72L10.72 0.78L10.78 0.72L10.97 0.72L11.28 0.53L11.66 0.16L11.84 -0.16L11.84 -0.34L11.91 -0.41L11.84 -0.47L11.78 -0.78L11.09 -1.47L10.78 -1.53ZM24.53 -9.66L23.16 -9.16L22.84 -8.84L22.41 -7.97L22.41 -7.72L22.34 -7.66L22.34 -6.34L22.41 -6.28L22.41 -6.03L22.84 -5.22L22.84 -5.09L22.53 -4.78L22.59 -4.72L22.41 -4.59L21.97 -3.72L21.97 -3.47L21.91 -3.41L21.91 -1.66L21.97 -1.59L21.97 -1.34L22.41 -0.47L22.59 -0.34L22.53 -0.28L22.97 0.16L23.03 0.09L23.22 0.22L23.28 0.34L23.41 0.34L24.41 0.72L24.72 0.72L24.78 0.78L26.53 0.78L26.59 0.72L26.84 0.72L27.84 0.34L28.03 0.34L28.03 0.28L28.28 0.09L28.34 0.16L28.72 -0.34L28.91 -0.47L29.28 -1.22L29.34 -1.59L29.41 -1.66L29.41 -3.41L29.34 -3.47L29.34 -3.66L28.91 -4.59L28.72 -4.72L28.72 -4.84L28.47 -5.09L28.47 -5.22L28.91 -6.03L28.91 -6.28L28.97 -6.34L28.97 -7.66L28.91 -7.72L28.91 -7.97L28.47 -8.84L28.16 -9.16L27.91 -9.28L27.78 -9.28L26.78 -9.66L26.66 -9.59L26.53 -9.66L24.78 -9.66L24.72 -9.59L24.59 -9.59ZM24.34 -4.03L24.97 -4.34L26.34 -4.34L26.97 -4.03L27.16 -3.84L27.47 -3.22L27.47 -1.84L27.16 -1.22L26.97 -1.03L26.34 -0.72L24.97 -0.72L24.34 -1.03L24.16 -1.22L23.84 -1.84L23.84 -3.22L24.16 -3.84ZM24.47 -7.91L24.91 -8.16L26.41 -8.16L26.78 -7.97L27.03 -7.53L27.03 -6.53L26.84 -6.16L26.72 -6.03L26.34 -5.84L24.97 -5.84L24.59 -6.03L24.41 -6.22L24.28 -6.47L24.28 -7.53ZM16.41 -9.66L15.03 -9.16L14.72 -8.84L14.47 -8.41L13.91 -7.66L13.91 -7.53L13.78 -7.28L13.78 -7.03L13.72 -6.97L13.59 -6.09L13.47 -5.78L13.41 -5.16L13.34 -5.09L13.34 -3.78L13.41 -3.72L13.41 -3.41L13.47 -3.34L13.47 -3.09L13.53 -3.03L13.53 -2.78L13.59 -2.72L13.59 -2.47L13.66 -2.41L13.78 -1.53L14.72 -0.03L15.09 0.22L15.16 0.34L15.28 0.34L16.28 0.72L16.59 0.72L16.66 0.78L17.53 0.78L17.59 0.72L17.91 0.72L17.97 0.66L19.03 0.34L19.47 0.03L19.66 -0.34L20.28 -1.22L20.28 -1.34L20.47 -1.72L20.47 -1.97L20.53 -2.03L20.53 -2.28L20.59 -2.34L20.59 -2.59L20.66 -2.66L20.66 -2.91L20.72 -2.97L20.72 -3.22L20.78 -3.28L20.78 -3.53L20.84 -3.59L20.78 -3.72L20.84 -3.78L20.84 -5.09L20.78 -5.16L20.84 -5.28L20.78 -5.34L20.78 -5.59L20.72 -5.66L20.72 -5.91L20.66 -5.97L20.66 -6.22L20.59 -6.28L20.47 -7.16L20.28 -7.53L20.28 -7.72L19.97 -8.09L19.47 -8.91L19.22 -9.16L17.84 -9.66L17.72 -9.59L17.59 -9.59L17.53 -9.66L16.66 -9.66L16.53 -9.59ZM16.78 -8.16L17.47 -8.16L17.84 -7.97L18.22 -7.59L18.59 -6.78L18.59 -6.53L18.66 -6.47L18.66 -6.22L18.72 -6.16L18.72 -5.91L18.78 -5.84L18.78 -5.59L18.84 -5.53L18.84 -5.28L18.91 -5.22L18.91 -3.66L18.78 -3.34L18.78 -3.09L18.72 -3.03L18.72 -2.78L18.66 -2.72L18.66 -2.47L18.59 -2.41L18.53 -1.91L18.22 -1.28L17.97 -1.03L17.41 -0.72L16.84 -0.72L16.22 -1.03L16.03 -1.22L15.66 -1.97L15.66 -2.22L15.59 -2.28L15.59 -2.53L15.53 -2.59L15.53 -2.84L15.47 -2.91L15.47 -3.16L15.41 -3.22L15.41 -3.47L15.34 -3.53L15.34 -3.78L15.28 -3.84L15.28 -5.09L15.34 -5.16L15.34 -5.41L15.41 -5.47L15.41 -5.72L15.47 -5.78L15.47 -6.03L15.53 -6.09L15.53 -6.34L15.59 -6.41L15.66 -6.91L16.03 -7.66L16.28 -7.91ZM3.59 -9.66L2.22 -9.16L1.91 -8.84L1.66 -8.41L1.09 -7.66L1.09 -7.53L0.97 -7.28L0.97 -7.03L0.91 -6.97L0.91 -6.72L0.84 -6.66L0.84 -6.41L0.78 -6.34L0.78 -6.09L0.72 -6.03L0.59 -5.16L0.53 -5.09L0.53 -3.78L0.59 -3.72L0.59 -3.47L0.66 -3.41L0.66 -3.16L0.72 -3.09L0.72 -2.84L0.78 -2.78L0.78 -2.53L0.84 -2.47L0.84 -2.22L0.91 -2.16L0.91 -1.91L0.97 -1.84L1.03 -1.41L1.59 -0.59L1.91 -0.03L2.28 0.22L2.34 0.34L2.47 0.34L3.47 0.72L3.78 0.72L3.84 0.78L4.72 0.78L4.78 0.72L5.09 0.72L5.16 0.66L6.22 0.34L6.66 0.03L6.97 -0.53L7.47 -1.22L7.47 -1.34L7.66 -1.66L7.66 -1.91L7.72 -1.97L7.72 -2.22L7.78 -2.28L7.78 -2.53L7.84 -2.59L7.84 -2.84L7.91 -2.91L7.91 -3.16L7.97 -3.22L7.97 -3.47L8.03 -3.53L8.03 -3.66L7.97 -3.72L8.03 -3.78L8.03 -5.09L7.97 -5.16L8.03 -5.22L8.03 -5.34L7.97 -5.41L7.97 -5.66L7.84 -5.97L7.84 -6.22L7.78 -6.28L7.66 -7.16L7.47 -7.53L7.47 -7.72L7.03 -8.28L6.66 -8.91L6.41 -9.16L5.03 -9.66L4.91 -9.59L4.78 -9.59L4.72 -9.66L3.84 -9.66L3.72 -9.59ZM3.97 -8.16L4.66 -8.16L5.03 -7.97L5.41 -7.59L5.78 -6.84L5.78 -6.59L5.84 -6.53L5.84 -6.28L5.91 -6.22L5.91 -5.97L5.97 -5.91L5.97 -5.66L6.03 -5.59L6.03 -5.34L6.09 -5.28L6.09 -3.66L6.03 -3.59L6.03 -3.34L5.97 -3.28L5.97 -3.03L5.91 -2.97L5.78 -2.09L5.41 -1.28L5.16 -1.03L4.59 -0.72L4.03 -0.72L3.41 -1.03L3.22 -1.22L2.84 -2.03L2.84 -2.28L2.78 -2.34L2.78 -2.59L2.72 -2.66L2.59 -3.53L2.47 -3.84L2.47 -5.03L2.53 -5.09L2.53 -5.34L2.59 -5.41L2.59 -5.66L2.66 -5.72L2.66 -5.97L2.72 -6.03L2.84 -6.91L3.22 -7.66L3.47 -7.91Z" fill-rule="evenodd"/>
<path id="t5" d="M10.72 -1.59L10.66 -1.53L10.47 -1.53L10.16 -1.34L9.72 -0.91L9.53 -0.41L9.59 -0.34L9.59 -0.16L9.78 0.09L9.72 0.16L10.09 0.53L10.22 0.53L10.34 0.66L10.66 0.72L10.72 0.78L10.78 0.72L10.97 0.72L11.28 0.53L11.66 0.16L11.84 -0.16L11.84 -0.34L11.91 -0.41L11.84 -0.47L11.78 -0.78L11.09 -1.47L10.78 -1.53ZM17.53 -9.66L17.03 -9.47L15.84 -8.28L15.09 -7.91L14.78 -7.59L14.72 -7.28L14.66 -7.22L14.72 -7.16L14.78 -6.84L15.16 -6.53L15.34 -6.53L15.41 -6.47L15.47 -6.53L15.72 -6.53L16.28 -6.84L16.34 -6.78L16.34 -0.78L16.28 -0.72L15.41 -0.72L15.34 -0.66L15.16 -0.66L14.78 -0.34L14.72 -0.03L14.66 0.03L14.72 0.09L14.78 0.41L15.03 0.66L15.34 0.72L15.41 0.78L19.22 0.78L19.28 0.72L19.59 0.66L19.84 0.41L19.91 0.09L19.97 0.03L19.91 -0.03L19.84 -0.34L19.47 -0.66L19.28 -0.66L19.22 -0.72L18.34 -0.72L18.28 -0.78L18.28 -8.91L18.22 -8.97L18.16 -9.28L17.91 -9.53L17.59 -9.59ZM3.59 -9.66L2.22 -9.16L1.91 -8.84L1.66 -8.41L1.09 -7.66L1.09 -7.53L0.97 -7.28L0.97 -7.03L0.91 -6.97L0.91 -6.72L0.84 -6.66L0.84 -6.41L0.78 -6.34L0.78 -6.09L0.72 -6.03L0.59 -5.16L0.53 -5.09L0.53 -3.78L0.59 -3.72L0.59 -3.47L0.66 -3.41L0.66 -3.16L0.72 -3.09L0.72 -2.84L0.78 -2.78L0.78 -2.53L0.84 -2.47L0.84 -2.22L0.91 -2.16L0.91 -1.91L0.97 -1.84L1.03 -1.41L1.59 -0.59L1.91 -0.03L2.28 0.22L2.34 0.34L2.47 0.34L3.47 0.72L3.78 0.72L3.84 0.78L4.72 0.78L4.78 0.72L5.09 0.72L5.16 0.66L6.22 0.34L6.66 0.03L6.97 -0.53L7.47 -1.22L7.47 -1.34L7.66 -1.66L7.66 -1.91L7.72 -1.97L7.72 -2.22L7.78 -2.28L7.78 -2.53L7.84 -2.59L7.84 -2.84L7.91 -2.91L7.91 -3.16L7.97 -3.22L7.97 -3.47L8.03 -3.53L8.03 -3.66L7.97 -3.72L8.03 -3.78L8.03 -5.09L7.97 -5.16L8.03 -5.22L8.03 -5.34L7.97 -5.41L7.97 -5.66L7.84 -5.97L7.84 -6.22L7.78 -6.28L7.66 -7.16L7.47 -7.53L7.47 -7.72L7.03 -8.28L6.66 -8.91L6.41 -9.16L5.03 -9.66L4.91 -9.59L4.78 -9.59L4.72 -9.66L3.84 -9.66L3.72 -9.59ZM3.97 -8.16L4.66 -8.16L5.03 -7.97L5.41 -7.59L5.78 -6.84L5.78 -6.59L5.84 -6.53L5.84 -6.28L5.91 -6.22L5.91 -5.97L5.97 -5.91L5.97 -5.66L6.03 -5.59L6.03 -5.34L6.09 -5.28L6.09 -3.66L6.03 -3.59L6.03 -3.34L5.97 -3.28L5.97 -3.03L5.91 -2.97L5.78 -2.09L5.41 -1.28L5.16 -1.03L4.59 -0.72L4.03 -0.72L3.41 -1.03L3.22 -1.22L2.84 -2.03L2.84 -2.28L2.78 -2.34L2.78 -2.59L2.72 -2.66L2.59 -3.53L2.47 -3.84L2.47 -5.03L2.53 -5.09L2.53 -5.34L2.59 -5.41L2.59 -5.66L2.66 -5.72L2.66 -5.97L2.72 -6.03L2.84 -6.91L3.22 -7.66L3.47 -7.91Z" fill-rule="evenodd"/>
<path id="t6" d="M10.72 -1.59L10.66 -1.53L10.47 -1.53L10.16 -1.34L9.72 -0.91L9.53 -0.41L9.59 -0.34L9.59 -0.16L9.78 0.09L9.72 0.16L10.09 0.53L10.22 0.53L10.34 0.66L10.66 0.72L10.72 0.78L10.78 0.72L10.97 0.72L11.28 0.53L11.66 0.16L11.84 -0.16L11.84 -0.34L11.91 -0.41L11.84 -0.47L11.78 -0.78L11.09 -1.47L10.78 -1.53ZM23.41 -9.28L22.97 -9.03L22.53 -8.59L21.97 -7.59L22.03 -7.53L21.91 -7.22L21.91 -6.78L21.97 -6.72L21.97 -6.53L22.53 -5.84L22.84 -5.66L23.03 -5.66L23.09 -5.59L23.16 -5.66L23.34 -5.66L23.47 -5.72L24.16 -6.41L24.22 -6.72L24.28 -6.78L24.22 -6.84L24.22 -7.03L24.03 -7.34L23.72 -7.66L24.03 -7.91L24.16 -7.91L24.78 -8.16L26.41 -8.16L26.91 -7.91L27.16 -7.66L27.47 -7.03L27.47 -6.53L27.28 -6.16L26.97 -5.84L26.22 -5.34L23.66 -4.09L22.53 -3.03L22.47 -2.84L22.34 -2.72L22.34 -2.59L21.97 -1.59L21.97 -1.28L21.91 -1.22L21.91 0.03L21.97 0.09L21.97 0.28L22.03 0.41L22.41 0.72L22.59 0.72L22.66 0.78L22.72 0.72L22.91 0.72L23.03 0.66L23.34 0.28L23.34 0.09L23.41 0.03L23.41 -0.41L23.47 -0.47L23.78 -0.47L24.34 -0.09L24.53 -0.03L24.66 0.09L24.84 0.16L24.97 0.28L25.16 0.34L25.28 0.47L25.47 0.53L25.59 0.66L25.78 0.66L26.09 0.78L27.78 0.78L27.84 0.72L28.03 0.72L28.34 0.53L28.72 0.16L28.72 0.09L28.91 -0.03L29.34 -0.97L29.34 -1.16L29.41 -1.22L29.41 -2.09L29.34 -2.16L29.28 -2.47L29.03 -2.72L28.72 -2.78L28.66 -2.84L28.59 -2.78L28.28 -2.72L27.97 -2.34L27.97 -2.16L27.91 -2.09L27.91 -1.59L27.72 -1.41L27.22 -1.16L26.16 -1.16L25.47 -1.47L25.34 -1.47L25.16 -1.59L25.03 -1.59L24.84 -1.72L24.72 -1.72L24.53 -1.84L24.41 -1.84L24.22 -1.97L24.16 -1.91L23.78 -1.97L23.72 -2.09L24.41 -2.78L25.28 -3.22L25.41 -3.22L25.59 -3.34L25.72 -3.34L25.91 -3.47L26.03 -3.47L26.22 -3.59L26.34 -3.59L26.53 -3.72L26.97 -3.84L27.47 -4.09L27.66 -4.28L28.66 -4.91L28.66 -4.97L28.91 -5.16L29.28 -5.91L29.34 -6.28L29.41 -6.34L29.41 -7.22L29.34 -7.28L29.28 -7.66L28.91 -8.41L28.34 -9.03L27.91 -9.28L27.78 -9.28L26.78 -9.66L26.66 -9.59L26.53 -9.66L24.78 -9.66L24.72 -9.59L24.59 -9.59L24.53 -9.66L24.47 -9.59ZM17.53 -9.66L17.03 -9.47L15.84 -8.28L15.09 -7.91L14.78 -7.59L14.72 -7.28L14.66 -7.22L14.72 -7.16L14.78 -6.84L15.16 -6.53L15.34 -6.53L15.41 -6.47L15.47 -6.53L15.72 -6.53L16.28 -6.84L16.34 -6.78L16.34 -0.78L16.28 -0.72L15.41 -0.72L15.34 -0.66L15.16 -0.66L14.78 -0.34L14.72 -0.03L14.66 0.03L14.72 0.09L14.78 0.41L15.03 0.66L15.34 0.72L15.41 0.78L19.22 0.78L19.28 0.72L19.59 0.66L19.84 0.41L19.91 0.09L19.97 0.03L19.91 -0.03L19.84 -0.34L19.47 -0.66L19.28 -0.66L19.22 -0.72L18.34 -0.72L18.28 -0.78L18.28 -8.91L18.22 -8.97L18.16 -9.28L17.91 -9.53L17.59 -9.59ZM3.59 -9.66L2.22 -9.16L1.91 -8.84L1.66 -8.41L1.09 -7.66L1.09 -7.53L0.97 -7.28L0.97 -7.03L0.91 -6.97L0.91 -6.72L0.84 -6.66L0.84 -6.41L0.78 -6.34L0.78 -6.09L0.72 -6.03L0.59 -5.16L0.53 -5.09L0.53 -3.78L0.59 -3.72L0.59 -3.47L0.66 -3.41L0.66 -3.16L0.72 -3.09L0.72 -2.84L0.78 -2.78L0.78 -2.53L0.84 -2.47L0.84 -2.22L0.91 -2.16L0.91 -1.91L0.97 -1.84L1.03 -1.41L1.59 -0.59L1.91 -0.03L2.28 0.22L2.34 0.34L2.47 0.34L3.47 0.72L3.78 0.72L3.84 0.78L4.72 0.78L4.78 0.72L5.09 0.72L5.16 0.66L6.22 0.34L6.66 0.03L6.97 -0.53L7.47 -1.22L7.47 -1.34L7.66 -1.66L7.66 -1.91L7.72 -1.97L7.72 -2.22L7.78 -2.28L7.78 -2.53L7.84 -2.59L7.84 -2.84L7.91 -2.91L7.91 -3.16L7.97 -3.22L7.97 -3.47L8.03 -3.53L8.03 -3.66L7.97 -3.72L8.03 -3.78L8.03 -5.09L7.97 -5.16L8.03 -5.22L8.03 -5.34L7.97 -5.41L7.97 -5.66L7.84 -5.97L7.84 -6.22L7.78 -6.28L7.66 -7.16L7.47 -7.53L7.47 -7.72L7.03 -8.28L6.66 -8.91L6.41 -9.16L5.03 -9.66L4.91 -9.59L4.78 -9.59L4.72 -9.66L3.84 -9.66L3.72 -9.59ZM3.97 -8.16L4.66 -8.16L5.03 -7.97L5.41 -7.59L5.78 -6.84L5.78 -6.59L5.84 -6.53L5.84 -6.28L5.91 -6.22L5.91 -5.97L5.97 -5.91L5.97 -5.66L6.03 -5.59L6.03 -5.34L6.09 -5.28L6.09 -3.66L6.03 -3.59L6.03 -3.34L5.97 -3.28L5.97 -3.03L5.91 -2.97L5.78 -2.09L5.41 -1.28L5.16 -1.03L4.59 -0.72L4.03 -0.72L3.41 -1.03L3.22 -1.22L2.84 -2.03L2.84 -2.28L2.78 -2.34L2.78 -2.59L2.72 -2.66L2.59 -3.53L2.47 -3.84L2.47 -5.03L2.53 -5.09L2.53 -5.34L2.59 -5.41L2.59 -5.66L2.66 -5.72L2.66 -5.97L2.72 -6.03L2.84 -6.91L3.22 -7.66L3.47 -7.91Z" fill-rule="evenodd"/>
<path id="t7" d="M0.97 -3.78L1.03 -3.72L1.09 -3.41L1.34 -3.16L1.66 -3.09L1.72 -3.03L9.41 -3.03L9.47 -3.09L9.78 -3.16L10.03 -3.41L10.09 -3.72L10.16 -3.78L10.09 -3.84L10.03 -4.16L9.78 -4.41L9.47 -4.47L9.41 -4.53L1.72 -4.53L1.66 -4.47L1.34 -4.41L1.09 -4.16L1.03 -3.84ZM16.66 -9.66L15.41 -9.66L15.34 -9.59L15.22 -9.59L15.16 -9.66L15.09 -9.59L14.97 -9.59L14.91 -9.53L14.78 -9.53L14.72 -9.47L13.72 -9.16L12.72 -8.16L12.47 -7.78L12.16 -7.16L12.22 -7.09L12.09 -6.97L12.09 -6.78L12.03 -6.72L11.84 -5.78L11.66 -5.28L11.72 -5.22L11.66 -5.09L11.66 -2.53L11.72 -2.47L11.72 -2.16L11.78 -2.09L12.09 -1.03L12.22 -0.91L12.28 -0.72L13.16 0.16L13.22 0.09L13.41 0.22L13.47 0.34L13.59 0.34L14.59 0.72L14.91 0.72L14.97 0.78L15.84 0.78L15.91 0.72L16.22 0.72L16.28 0.66L17.34 0.34L17.34 0.28L17.59 0.09L17.66 0.16L18.59 -0.84L18.72 -1.09L18.72 -1.22L19.09 -2.22L19.09 -2.47L19.16 -2.53L19.09 -3.28L19.03 -3.34L18.72 -4.41L18.47 -4.78L17.66 -5.59L17.41 -5.72L17.34 -5.84L17.22 -5.84L16.22 -6.22L15.91 -6.22L15.84 -6.28L15.09 -6.22L13.91 -5.78L13.78 -5.84L13.84 -5.91L13.84 -6.09L13.91 -6.16L13.91 -6.34L13.97 -6.41L14.03 -6.72L14.22 -7.09L15.03 -7.91L15.53 -8.16L16.59 -8.16L16.78 -8.03L16.41 -7.47L16.41 -7.28L16.34 -7.22L16.41 -7.16L16.41 -6.97L16.47 -6.84L17.16 -6.16L17.28 -6.09L17.47 -6.09L17.53 -6.03L17.59 -6.09L17.91 -6.16L18.09 -6.28L18.59 -6.84L18.66 -7.16L18.72 -7.22L18.72 -7.66L18.66 -7.72L18.66 -7.97L18.22 -8.84L17.84 -9.22L17.09 -9.59L16.97 -9.53ZM15.47 -4.78L15.66 -4.78L16.16 -4.53L16.91 -3.78L17.16 -2.97L17.22 -2.91L17.22 -2.59L17.16 -2.53L16.91 -1.66L16.28 -1.03L15.66 -0.72L15.16 -0.72L14.53 -1.03L13.91 -1.66L13.91 -1.78L13.59 -2.59L13.59 -2.91L13.66 -2.97L13.91 -3.78L14.59 -4.47L15.41 -4.72Z" fill-rule="evenodd"/>
<path id="t8" d="M0.97 -3.78L1.03 -3.72L1.09 -3.41L1.34 -3.16L1.66 -3.09L1.72 -3.03L9.41 -3.03L9.47 -3.09L9.78 -3.16L10.03 -3.41L10.09 -3.72L10.16 -3.78L10.09 -3.84L10.03 -4.16L9.78 -4.41L9.47 -4.47L9.41 -4.53L1.72 -4.53L1.66 -4.47L1.34 -4.41L1.09 -4.16L1.03 -3.84ZM16.66 -9.66L16.59 -9.59L16.28 -9.53L15.97 -9.28L15.47 -8.53L14.91 -7.84L14.78 -7.59L14.22 -6.91L14.09 -6.66L13.53 -5.97L13.41 -5.72L12.84 -5.03L12.72 -4.78L12.16 -4.09L12.03 -3.84L11.47 -3.16L11.22 -2.53L11.28 -2.47L11.34 -2.16L11.59 -1.91L11.91 -1.84L11.97 -1.78L15.47 -1.78L15.53 -1.72L15.53 -0.78L15.47 -0.72L14.97 -0.72L14.91 -0.66L14.59 -0.59L14.34 -0.34L14.28 -0.03L14.22 0.03L14.28 0.09L14.34 0.41L14.59 0.66L14.91 0.72L14.97 0.78L17.97 0.78L18.03 0.72L18.34 0.66L18.66 0.28L18.66 0.09L18.72 0.03L18.66 -0.03L18.66 -0.22L18.59 -0.34L18.22 -0.66L18.03 -0.66L17.97 -0.72L17.47 -0.72L17.41 -0.78L17.41 -1.72L17.47 -1.78L18.84 -1.78L18.91 -1.84L19.09 -1.84L19.47 -2.16L19.53 -2.47L19.59 -2.53L19.53 -2.59L19.47 -2.91L19.09 -3.22L18.91 -3.22L18.84 -3.28L17.47 -3.28L17.41 -3.34L17.41 -8.91L17.34 -8.97L17.28 -9.28L17.03 -9.53L16.72 -9.59ZM15.47 -5.97L15.53 -5.91L15.53 -3.34L15.47 -3.28L13.59 -3.28L13.53 -3.34Z" fill-rule="evenodd"/>
<path id="t9" d="M0.97 -3.78L1.03 -3.72L1.09 -3.41L1.34 -3.16L1.66 -3.09L1.72 -3.03L9.41 -3.03L9.47 -3.09L9.78 -3.16L10.03 -3.41L10.09 -3.72L10.16 -3.78L10.09 -3.84L10.03 -4.16L9.78 -4.41L9.47 -4.47L9.41 -4.53L1.72 -4.53L1.66 -4.47L1.34 -4.41L1.09 -4.16L1.03 -3.84ZM13.16 -9.28L12.72 -9.03L12.28 -8.59L11.72 -7.59L11.78 -7.53L11.66 -7.22L11.66 -6.78L11.72 -6.72L11.72 -6.53L12.28 -5.84L12.59 -5.66L12.78 -5.66L12.84 -5.59L12.91 -5.66L13.09 -5.66L13.22 -5.72L13.91 -6.41L13.97 -6.72L14.03 -6.78L13.97 -6.84L13.97 -7.03L13.78 -7.34L13.47 -7.66L13.78 -7.91L13.91 -7.91L14.53 -8.16L16.16 -8.16L16.66 -7.91L16.91 -7.66L17.22 -7.03L17.22 -6.53L16.91 -5.97L15.97 -5.34L13.41 -4.09L12.28 -3.03L12.22 -2.84L12.09 -2.72L12.09 -2.59L11.72 -1.59L11.72 -1.28L11.66 -1.22L11.66 0.03L11.72 0.09L11.72 0.28L11.78 0.41L12.16 0.72L12.34 0.72L12.41 0.78L12.47 0.72L12.66 0.72L12.78 0.66L13.09 0.28L13.09 0.09L13.16 0.03L13.16 -0.41L13.22 -0.47L13.53 -0.47L14.09 -0.09L14.28 -0.03L14.41 0.09L14.59 0.16L14.72 0.28L14.91 0.34L15.03 0.47L15.22 0.53L15.34 0.66L15.53 0.66L15.84 0.78L17.53 0.78L17.59 0.72L17.78 0.72L18.09 0.53L18.47 0.16L18.47 0.09L18.66 -0.03L19.09 -0.91L19.09 -1.16L19.16 -1.22L19.16 -2.09L19.09 -2.16L19.03 -2.47L18.78 -2.72L18.47 -2.78L18.41 -2.84L18.34 -2.78L18.03 -2.72L17.72 -2.34L17.72 -2.16L17.66 -2.09L17.66 -1.59L17.47 -1.41L16.97 -1.16L15.91 -1.16L15.22 -1.47L15.09 -1.47L14.91 -1.59L14.78 -1.59L14.59 -1.72L14.47 -1.72L14.16 -1.91L14.03 -1.91L13.97 -1.97L13.91 -1.91L13.53 -1.97L13.47 -2.09L14.16 -2.78L15.03 -3.22L15.16 -3.22L15.34 -3.34L15.47 -3.34L15.66 -3.47L15.78 -3.47L15.97 -3.59L16.09 -3.59L16.28 -3.72L16.72 -3.84L17.22 -4.09L17.41 -4.28L18.41 -4.91L18.41 -4.97L18.66 -5.16L19.09 -6.03L19.09 -6.28L19.16 -6.34L19.16 -7.22L19.03 -7.53L19.09 -7.59L18.97 -7.72L18.66 -8.41L18.09 -9.03L17.66 -9.28L17.53 -9.28L16.53 -9.66L16.41 -9.59L16.28 -9.66L14.53 -9.66L14.47 -9.59L14.34 -9.59L14.28 -9.66L14.22 -9.59Z" fill-rule="evenodd"/>
<path id="t10" d="M2.03 -9.28L1.78 -9.16L1.09 -8.47L0.66 -7.66L0.59 -7.28L0.53 -7.22L0.53 -6.78L0.59 -6.72L0.66 -6.41L1.34 -5.72L1.66 -5.66L1.72 -5.59L1.78 -5.66L1.97 -5.66L2.28 -5.84L2.72 -6.28L2.91 -6.78L2.84 -6.84L2.84 -7.03L2.66 -7.28L2.72 -7.34L2.41 -7.66L2.66 -7.91L2.78 -7.91L3.41 -8.16L5.09 -8.16L5.47 -7.97L5.84 -7.59L6.09 -7.09L6.09 -6.47L5.91 -6.09L5.78 -5.97L4.84 -5.34L2.22 -4.03L1.09 -2.91L0.97 -2.66L0.97 -2.53L0.59 -1.53L0.59 -1.28L0.53 -1.22L0.53 0.03L0.59 0.09L0.59 0.28L0.66 0.41L1.03 0.72L1.22 0.72L1.28 0.78L1.34 0.72L1.53 0.72L1.66 0.66L1.97 0.28L1.97 0.09L2.03 0.03L2.03 -0.41L2.09 -0.47L2.47 -0.47L3.03 -0.09L3.22 -0.03L3.34 0.09L3.53 0.16L3.66 0.28L3.84 0.34L3.97 0.47L4.16 0.53L4.28 0.66L4.41 0.66L4.47 0.72L4.66 0.72L4.72 0.78L6.41 0.78L6.47 0.72L6.66 0.72L6.91 0.53L7.03 0.53L7.41 0.16L7.34 0.09L7.59 -0.09L7.66 -0.34L7.97 -0.91L7.97 -1.16L8.03 -1.22L8.03 -2.09L7.97 -2.16L7.91 -2.47L7.66 -2.72L7.34 -2.78L7.28 -2.84L7.22 -2.78L6.91 -2.72L6.59 -2.34L6.59 -2.16L6.53 -2.09L6.53 -1.53L5.84 -1.16L4.78 -1.16L4.41 -1.34L4.28 -1.34L3.97 -1.53L3.84 -1.53L3.66 -1.66L3.22 -1.78L3.03 -1.91L2.91 -1.91L2.84 -1.97L2.78 -1.91L2.66 -1.91L2.34 -2.03L2.41 -2.16L3.03 -2.78L4.22 -3.34L4.34 -3.34L4.53 -3.47L4.66 -3.47L4.84 -3.59L4.97 -3.59L5.16 -3.72L5.59 -3.84L6.09 -4.09L7.22 -4.84L7.28 -4.97L7.59 -5.22L7.66 -5.47L7.97 -6.03L7.97 -6.28L8.03 -6.34L8.03 -7.22L7.91 -7.53L7.97 -7.59L7.59 -8.34L6.97 -9.03L6.59 -9.28L6.47 -9.28L5.47 -9.66L5.34 -9.59L5.22 -9.59L5.16 -9.66L3.47 -9.66L3.41 -9.59L3.28 -9.59L3.16 -9.66L3.09 -9.59Z" fill-rule="evenodd"/>
<path id="t11" d="M5.59 -9.66L5.53 -9.59L5.22 -9.53L5.03 -9.34L4.97 -9.41L4.59 -8.84L4.03 -8.16L3.91 -7.91L3.34 -7.22L3.22 -6.97L2.66 -6.28L2.53 -6.03L0.28 -3.03L0.28 -2.84L0.16 -2.53L0.22 -2.47L0.28 -2.16L0.53 -1.91L0.84 -1.84L0.91 -1.78L4.34 -1.78L4.41 -1.72L4.41 -0.78L4.34 -0.72L3.84 -0.72L3.78 -0.66L3.47 -0.59L3.22 -0.34L3.16 -0.03L3.09 0.03L3.16 0.09L3.22 0.41L3.47 0.66L3.78 0.72L3.84 0.78L6.84 0.78L6.91 0.72L7.22 0.66L7.53 0.28L7.53 0.09L7.59 0.03L7.53 -0.03L7.53 -0.22L7.47 -0.34L7.09 -0.66L6.91 -0.66L6.84 -0.72L6.41 -0.72L6.34 -0.78L6.34 -1.72L6.41 -1.78L7.72 -1.78L7.78 -1.84L7.97 -1.84L8.34 -2.16L8.41 -2.47L8.47 -2.53L8.41 -2.59L8.34 -2.91L7.97 -3.22L7.78 -3.22L7.72 -3.28L6.41 -3.28L6.34 -3.34L6.34 -8.91L6.28 -8.97L6.22 -9.28L5.97 -9.53L5.66 -9.59ZM4.34 -5.97L4.41 -5.91L4.41 -3.34L4.34 -3.28L2.47 -3.28L2.41 -3.34L2.59 -3.53L2.72 -3.78L3.28 -4.47L3.41 -4.72Z" fill-rule="evenodd"/>
<path id="t12" d="M5.59 -9.66L4.28 -9.66L4.22 -9.59L4.03 -9.66L3.97 -9.59L2.91 -9.28L2.47 -9.03L1.47 -7.97L0.97 -6.91L0.97 -6.72L0.91 -6.66L0.91 -6.47L0.84 -6.41L0.84 -6.22L0.78 -6.16L0.78 -5.97L0.72 -5.91L0.72 -5.72L0.59 -5.41L0.59 -5.16L0.53 -5.09L0.53 -2.53L0.59 -2.47L0.59 -2.22L0.66 -2.16L0.97 -1.09L1.09 -0.84L2.09 0.16L2.28 0.22L2.34 0.34L2.47 0.34L3.47 0.72L3.78 0.72L3.84 0.78L4.72 0.78L4.78 0.72L5.09 0.72L5.16 0.66L6.22 0.34L6.34 0.22L6.53 0.16L7.41 -0.72L7.47 -0.91L7.66 -1.16L7.66 -1.28L8.03 -2.28L7.97 -2.34L7.97 -2.47L8.03 -2.53L8.03 -2.97L7.97 -3.03L7.97 -3.16L8.03 -3.22L7.84 -3.59L7.59 -4.47L7.53 -4.47L7.34 -4.72L7.41 -4.78L6.41 -5.72L6.22 -5.84L6.09 -5.84L5.09 -6.22L4.78 -6.22L4.72 -6.28L3.97 -6.22L2.78 -5.78L2.72 -5.84L2.84 -6.47L3.16 -7.16L3.91 -7.91L4.41 -8.16L5.47 -8.16L5.72 -7.97L5.47 -7.78L5.53 -7.72L5.41 -7.59L5.34 -7.28L5.28 -7.22L5.47 -6.72L6.03 -6.16L6.16 -6.09L6.34 -6.09L6.41 -6.03L6.47 -6.09L6.66 -6.09L6.97 -6.28L7.41 -6.72L7.59 -7.22L7.59 -7.66L7.53 -7.72L7.53 -8.03L7.16 -8.78L6.72 -9.22L5.97 -9.59L5.66 -9.59ZM4.59 -4.78L4.97 -4.59L5.84 -3.72L5.84 -3.59L6.09 -2.97L6.09 -2.53L6.03 -2.47L5.78 -1.66L5.16 -1.03L4.59 -0.72L4.03 -0.72L3.53 -0.97L2.78 -1.72L2.78 -1.84L2.47 -2.66L2.47 -2.84L2.53 -2.91L2.78 -3.78L3.47 -4.47L3.59 -4.47L4.41 -4.78Z" fill-rule="evenodd"/>
<path id="t13" d="M10.72 -1.59L10.66 -1.53L10.47 -1.53L10.16 -1.34L9.72 -0.91L9.53 -0.41L9.59 -0.34L9.59 -0.16L9.78 0.09L9.72 0.16L10.09 0.53L10.22 0.53L10.34 0.66L10.66 0.72L10.72 0.78L10.78 0.72L10.97 0.72L11.28 0.53L11.66 0.16L11.84 -0.16L11.84 -0.34L11.91 -0.41L11.84 -0.47L11.78 -0.78L11.09 -1.47L10.78 -1.53ZM14.84 -9.28L14.59 -9.16L13.91 -8.47L13.47 -7.66L13.41 -7.28L13.34 -7.22L13.34 -6.78L13.41 -6.72L13.47 -6.41L14.16 -5.72L14.47 -5.66L14.53 -5.59L14.59 -5.66L14.78 -5.66L15.09 -5.84L15.53 -6.28L15.72 -6.78L15.66 -6.84L15.66 -7.03L15.47 -7.28L15.53 -7.34L15.22 -7.66L15.47 -7.91L15.59 -7.91L16.22 -8.16L17.91 -8.16L18.28 -7.97L18.66 -7.59L18.91 -7.09L18.91 -6.47L18.72 -6.09L18.59 -5.97L17.66 -5.34L15.03 -4.03L14.03 -3.09L13.78 -2.66L13.78 -2.53L13.41 -1.53L13.41 -1.28L13.34 -1.22L13.34 0.03L13.41 0.09L13.41 0.28L13.47 0.41L13.84 0.72L14.03 0.72L14.09 0.78L14.16 0.72L14.34 0.72L14.47 0.66L14.78 0.28L14.78 0.09L14.84 0.03L14.84 -0.41L14.91 -0.47L15.28 -0.47L15.84 -0.09L16.03 -0.03L16.16 0.09L16.34 0.16L16.47 0.28L16.66 0.34L16.78 0.47L16.97 0.53L17.09 0.66L17.22 0.66L17.28 0.72L17.47 0.72L17.53 0.78L19.22 0.78L19.28 0.72L19.47 0.72L19.72 0.53L19.84 0.53L20.22 0.16L20.16 0.09L20.34 -0.03L20.78 -0.91L20.78 -1.16L20.84 -1.22L20.84 -2.09L20.78 -2.16L20.72 -2.47L20.47 -2.72L20.16 -2.78L20.09 -2.84L20.03 -2.78L19.72 -2.72L19.41 -2.34L19.41 -2.16L19.34 -2.09L19.34 -1.53L18.66 -1.16L17.59 -1.16L16.91 -1.47L16.78 -1.47L16.47 -1.66L16.03 -1.78L15.84 -1.91L15.72 -1.91L15.66 -1.97L15.59 -1.91L15.47 -1.91L15.16 -2.03L15.22 -2.16L15.84 -2.78L17.03 -3.34L17.16 -3.34L17.34 -3.47L17.47 -3.47L17.66 -3.59L17.78 -3.59L17.97 -3.72L18.41 -3.84L18.91 -4.09L20.09 -4.91L20.09 -4.97L20.34 -5.16L20.78 -6.03L20.78 -6.28L20.84 -6.34L20.84 -7.22L20.72 -7.53L20.78 -7.59L20.41 -8.34L19.78 -9.03L19.41 -9.28L19.28 -9.28L18.28 -9.66L18.16 -9.59L18.03 -9.59L17.97 -9.66L16.28 -9.66L16.22 -9.59L16.09 -9.59L15.97 -9.66L15.91 -9.59ZM3.59 -9.66L2.22 -9.16L1.91 -8.84L1.66 -8.41L1.09 -7.66L1.09 -7.53L0.97 -7.28L0.97 -7.03L0.91 -6.97L0.91 -6.72L0.84 -6.66L0.84 -6.41L0.78 -6.34L0.78 -6.09L0.72 -6.03L0.59 -5.16L0.53 -5.09L0.53 -3.78L0.59 -3.72L0.59 -3.47L0.66 -3.41L0.66 -3.16L0.72 -3.09L0.72 -2.84L0.78 -2.78L0.78 -2.53L0.84 -2.47L0.84 -2.22L0.91 -2.16L0.91 -1.91L0.97 -1.84L1.03 -1.41L1.59 -0.59L1.91 -0.03L2.28 0.22L2.34 0.34L2.47 0.34L3.47 0.72L3.78 0.72L3.84 0.78L4.72 0.78L4.78 0.72L5.09 0.72L5.16 0.66L6.22 0.34L6.66 0.03L6.97 -0.53L7.47 -1.22L7.47 -1.34L7.66 -1.66L7.66 -1.91L7.72 -1.97L7.72 -2.22L7.78 -2.28L7.78 -2.53L7.84 -2.59L7.84 -2.84L7.91 -2.91L7.91 -3.16L7.97 -3.22L7.97 -3.47L8.03 -3.53L8.03 -3.66L7.97 -3.72L8.03 -3.78L8.03 -5.09L7.97 -5.16L8.03 -5.22L8.03 -5.34L7.97 -5.41L7.97 -5.66L7.84 -5.97L7.84 -6.22L7.78 -6.28L7.66 -7.16L7.47 -7.53L7.47 -7.72L7.03 -8.28L6.66 -8.91L6.41 -9.16L5.03 -9.66L4.91 -9.59L4.78 -9.59L4.72 -9.66L3.84 -9.66L3.72 -9.59ZM3.97 -8.16L4.66 -8.16L5.03 -7.97L5.41 -7.59L5.78 -6.84L5.78 -6.59L5.84 -6.53L5.84 -6.28L5.91 -6.22L5.91 -5.97L5.97 -5.91L5.97 -5.66L6.03 -5.59L6.03 -5.34L6.09 -5.28L6.09 -3.66L6.03 -3.59L6.03 -3.34L5.97 -3.28L5.97 -3.03L5.91 -2.97L5.78 -2.09L5.41 -1.28L5.16 -1.03L4.59 -0.72L4.03 -0.72L3.41 -1.03L3.22 -1.22L2.84 -2.03L2.84 -2.28L2.78 -2.34L2.78 -2.59L2.72 -2.66L2.59 -3.53L2.47 -3.84L2.47 -5.03L2.53 -5.09L2.53 -5.34L2.59 -5.41L2.59 -5.66L2.66 -5.72L2.66 -5.97L2.72 -6.03L2.84 -6.91L3.22 -7.66L3.47 -7.91Z" fill-rule="evenodd"/>
<path id="t14" d="M10.72 -1.59L10.66 -1.53L10.47 -1.53L10.16 -1.34L9.72 -0.91L9.53 -0.41L9.59 -0.34L9.59 -0.16L9.78 0.09L9.72 0.16L10.09 0.53L10.22 0.53L10.34 0.66L10.66 0.72L10.72 0.78L10.78 0.72L10.97 0.72L11.28 0.53L11.66 0.16L11.84 -0.16L11.84 -0.34L11.91 -0.41L11.84 -0.47L11.78 -0.78L11.09 -1.47L10.78 -1.53ZM18.41 -9.66L18.34 -9.59L18.03 -9.53L17.84 -9.34L17.78 -9.41L17.22 -8.59L16.66 -7.91L16.53 -7.66L15.97 -6.97L15.84 -6.72L15.28 -6.03L15.16 -5.78L14.59 -5.09L14.47 -4.84L14.09 -4.41L13.97 -4.16L13.09 -3.03L13.09 -2.84L12.97 -2.53L13.03 -2.47L13.09 -2.16L13.34 -1.91L13.66 -1.84L13.72 -1.78L17.16 -1.78L17.22 -1.72L17.22 -0.78L17.16 -0.72L16.66 -0.72L16.59 -0.66L16.28 -0.59L16.03 -0.34L15.97 -0.03L15.91 0.03L15.97 0.09L16.03 0.41L16.28 0.66L16.59 0.72L16.66 0.78L19.66 0.78L19.72 0.72L20.03 0.66L20.34 0.28L20.34 0.09L20.41 0.03L20.34 -0.03L20.34 -0.22L20.28 -0.34L19.91 -0.66L19.72 -0.66L19.66 -0.72L19.22 -0.72L19.16 -0.78L19.16 -1.72L19.22 -1.78L20.53 -1.78L20.59 -1.84L20.78 -1.84L21.16 -2.16L21.22 -2.47L21.28 -2.53L21.22 -2.59L21.16 -2.91L20.78 -3.22L20.59 -3.22L20.53 -3.28L19.22 -3.28L19.16 -3.34L19.16 -8.91L19.09 -8.97L19.03 -9.28L18.78 -9.53L18.47 -9.59ZM17.16 -5.97L17.22 -5.91L17.22 -3.34L17.16 -3.28L15.28 -3.28L15.22 -3.34L15.41 -3.53L15.53 -3.78L16.09 -4.47L16.22 -4.72ZM3.59 -9.66L2.22 -9.16L1.91 -8.84L1.66 -8.41L1.09 -7.66L1.09 -7.53L0.97 -7.28L0.97 -7.03L0.91 -6.97L0.91 -6.72L0.84 -6.66L0.84 -6.41L0.78 -6.34L0.78 -6.09L0.72 -6.03L0.59 -5.16L0.53 -5.09L0.53 -3.78L0.59 -3.72L0.59 -3.47L0.66 -3.41L0.66 -3.16L0.72 -3.09L0.72 -2.84L0.78 -2.78L0.78 -2.53L0.84 -2.47L0.84 -2.22L0.91 -2.16L0.91 -1.91L0.97 -1.84L1.03 -1.41L1.59 -0.59L1.91 -0.03L2.28 0.22L2.34 0.34L2.47 0.34L3.47 0.72L3.78 0.72L3.84 0.78L4.72 0.78L4.78 0.72L5.09 0.72L5.16 0.66L6.22 0.34L6.66 0.03L6.97 -0.53L7.47 -1.22L7.47 -1.34L7.66 -1.66L7.66 -1.91L7.72 -1.97L7.72 -2.22L7.78 -2.28L7.78 -2.53L7.84 -2.59L7.84 -2.84L7.91 -2.91L7.91 -3.16L7.97 -3.22L7.97 -3.47L8.03 -3.53L8.03 -3.66L7.97 -3.72L8.03 -3.78L8.03 -5.09L7.97 -5.16L8.03 -5.22L8.03 -5.34L7.97 -5.41L7.97 -5.66L7.84 -5.97L7.84 -6.22L7.78 -6.28L7.66 -7.16L7.47 -7.53L7.47 -7.72L7.03 -8.28L6.66 -8.91L6.41 -9.16L5.03 -9.66L4.91 -9.59L4.78 -9.59L4.72 -9.66L3.84 -9.66L3.72 -9.59ZM3.97 -8.16L4.66 -8.16L5.03 -7.97L5.41 -7.59L5.78 -6.84L5.78 -6.59L5.84 -6.53L5.84 -6.28L5.91 -6.22L5.91 -5.97L5.97 -5.91L5.97 -5.66L6.03 -5.59L6.03 -5.34L6.09 -5.28L6.09 -3.66L6.03 -3.59L6.03 -3.34L5.97 -3.28L5.97 -3.03L5.91 -2.97L5.78 -2.09L5.41 -1.28L5.16 -1.03L4.59 -0.72L4.03 -0.72L3.41 -1.03L3.22 -1.22L2.84 -2.03L2.84 -2.28L2.78 -2.34L2.78 -2.59L2.72 -2.66L2.59 -3.53L2.47 -3.84L2.47 -5.03L2.53 -5.09L2.53 -5.34L2.59 -5.41L2.59 -5.66L2.66 -5.72L2.66 -5.97L2.72 -6.03L2.84 -6.91L3.22 -7.66L3.47 -7.91Z" fill-rule="evenodd"/>
<path id="t15" d="M10.72 -1.59L10.66 -1.53L10.47 -1.53L10.16 -1.34L9.72 -0.91L9.53 -0.41L9.59 -0.34L9.59 -0.16L9.78 0.09L9.72 0.16L10.09 0.53L10.22 0.53L10.34 0.66L10.66 0.72L10.72 0.78L10.78 0.72L10.97 0.72L11.28 0.53L11.66 0.16L11.84 -0.16L11.84 -0.34L11.91 -0.41L11.84 -0.47L11.78 -0.78L11.09 -1.47L10.78 -1.53ZM18.41 -9.66L17.09 -9.66L17.03 -9.59L16.91 -9.59L16.84 -9.66L16.78 -9.59L15.72 -9.28L15.28 -9.03L14.28 -7.97L13.78 -6.91L13.78 -6.72L13.72 -6.66L13.72 -6.47L13.66 -6.41L13.66 -6.22L13.59 -6.16L13.59 -5.97L13.53 -5.91L13.53 -5.72L13.41 -5.41L13.41 -5.16L13.34 -5.09L13.34 -2.53L13.41 -2.47L13.41 -2.22L13.47 -2.16L13.78 -1.09L13.91 -0.84L14.78 0.03L14.84 0.16L14.91 0.09L15.09 0.22L15.16 0.34L15.28 0.34L16.28 0.72L16.59 0.72L16.66 0.78L17.53 0.78L17.59 0.72L17.91 0.72L17.97 0.66L19.03 0.34L19.16 0.22L19.34 0.16L20.22 -0.72L20.28 -0.91L20.41 -1.03L20.41 -1.16L20.78 -2.16L20.84 -2.97L20.78 -3.03L20.78 -3.34L20.72 -3.41L20.41 -4.47L20.34 -4.47L20.16 -4.72L20.22 -4.78L19.22 -5.72L19.03 -5.84L18.91 -5.84L17.91 -6.22L17.59 -6.22L17.53 -6.28L16.78 -6.22L15.59 -5.78L15.53 -5.84L15.66 -6.47L15.97 -7.16L16.72 -7.91L17.22 -8.16L18.28 -8.16L18.53 -7.97L18.28 -7.78L18.34 -7.72L18.22 -7.59L18.16 -7.28L18.09 -7.22L18.28 -6.72L18.84 -6.16L18.97 -6.09L19.16 -6.09L19.22 -6.03L19.28 -6.09L19.47 -6.09L19.78 -6.28L20.22 -6.72L20.41 -7.22L20.41 -7.66L20.34 -7.72L20.34 -8.03L19.97 -8.78L19.53 -9.22L18.78 -9.59L18.47 -9.59ZM17.41 -4.78L17.78 -4.59L18.66 -3.72L18.66 -3.59L18.91 -2.97L18.91 -2.53L18.84 -2.47L18.59 -1.66L17.97 -1.03L17.41 -0.72L16.84 -0.72L16.34 -0.97L15.59 -1.72L15.59 -1.84L15.28 -2.66L15.28 -2.84L15.34 -2.91L15.59 -3.78L16.28 -4.47L16.41 -4.47L17.22 -4.78ZM3.59 -9.66L2.22 -9.16L1.91 -8.84L1.66 -8.41L1.09 -7.66L1.09 -7.53L0.97 -7.28L0.97 -7.03L0.91 -6.97L0.91 -6.72L0.84 -6.66L0.84 -6.41L0.78 -6.34L0.78 -6.09L0.72 -6.03L0.59 -5.16L0.53 -5.09L0.53 -3.78L0.59 -3.72L0.59 -3.47L0.66 -3.41L0.66 -3.16L0.72 -3.09L0.72 -2.84L0.78 -2.78L0.78 -2.53L0.84 -2.47L0.84 -2.22L0.91 -2.16L0.91 -1.91L0.97 -1.84L1.03 -1.41L1.59 -0.59L1.91 -0.03L2.28 0.22L2.34 0.34L2.47 0.34L3.47 0.72L3.78 0.72L3.84 0.78L4.72 0.78L4.78 0.72L5.09 0.72L5.16 0.66L6.22 0.34L6.66 0.03L6.97 -0.53L7.47 -1.22L7.47 -1.34L7.66 -1.66L7.66 -1.91L7.72 -1.97L7.72 -2.22L7.78 -2.28L7.78 -2.53L7.84 -2.59L7.84 -2.84L7.91 -2.91L7.91 -3.16L7.97 -3.22L7.97 -3.47L8.03 -3.53L8.03 -3.66L7.97 -3.72L8.03 -3.78L8.03 -5.09L7.97 -5.16L8.03 -5.22L8.03 -5.34L7.97 -5.41L7.97 -5.66L7.84 -5.97L7.84 -6.22L7.78 -6.28L7.66 -7.16L7.47 -7.53L7.47 -7.72L7.03 -8.28L6.66 -8.91L6.41 -9.16L5.03 -9.66L4.91 -9.59L4.78 -9.59L4.72 -9.66L3.84 -9.66L3.72 -9.59ZM3.97 -8.16L4.66 -8.16L5.03 -7.97L5.41 -7.59L5.78 -6.84L5.78 -6.59L5.84 -6.53L5.84 -6.28L5.91 -6.22L5.91 -5.97L5.97 -5.91L5.97 -5.66L6.03 -5.59L6.03 -5.34L6.09 -5.28L6.09 -3.66L6.03 -3.59L6.03 -3.34L5.97 -3.28L5.97 -3.03L5.91 -2.97L5.78 -2.09L5.41 -1.28L5.16 -1.03L4.59 -0.72L4.03 -0.72L3.41 -1.03L3.22 -1.22L2.84 -2.03L2.84 -2.28L2.78 -2.34L2.78 -2.59L2.72 -2.66L2.59 -3.53L2.47 -3.84L2.47 -5.03L2.53 -5.09L2.53 -5.34L2.59 -5.41L2.59 -5.66L2.66 -5.72L2.66 -5.97L2.72 -6.03L2.84 -6.91L3.22 -7.66L3.47 -7.91Z" fill-rule="evenodd"/>
<path id="t16" d="M10.72 -1.59L10.66 -1.53L10.47 -1.53L10.16 -1.34L9.72 -0.91L9.53 -0.41L9.59 -0.34L9.59 -0.16L9.78 0.09L9.72 0.16L10.09 0.53L10.22 0.53L10.34 0.66L10.66 0.72L10.72 0.78L10.78 0.72L10.97 0.72L11.28 0.53L11.66 0.16L11.84 -0.16L11.84 -0.34L11.91 -0.41L11.84 -0.47L11.78 -0.78L11.09 -1.47L10.78 -1.53ZM15.97 -9.66L14.59 -9.16L14.28 -8.84L13.84 -7.91L13.84 -7.72L13.78 -7.66L13.78 -6.34L13.84 -6.28L13.84 -6.09L14.03 -5.78L14.03 -5.66L14.34 -5.09L13.84 -4.53L13.41 -3.66L13.41 -3.47L13.34 -3.41L13.34 -1.66L13.41 -1.59L13.41 -1.41L13.84 -0.53L14.03 -0.28L14.47 0.16L14.66 0.22L14.72 0.34L14.84 0.34L15.84 0.72L16.22 0.72L16.28 0.78L17.97 0.78L18.03 0.72L18.34 0.72L18.41 0.66L19.47 0.34L19.47 0.28L19.72 0.09L19.78 0.16L20.22 -0.28L20.16 -0.34L20.34 -0.47L20.78 -1.34L20.78 -1.59L20.84 -1.66L20.84 -3.41L20.78 -3.47L20.78 -3.78L20.41 -4.53L20.16 -4.72L20.22 -4.78L19.91 -5.09L20.34 -5.97L20.34 -6.28L20.41 -6.34L20.41 -7.66L20.34 -7.72L20.34 -8.03L19.97 -8.78L19.41 -9.28L19.28 -9.28L18.28 -9.66L18.16 -9.59L18.03 -9.59L17.97 -9.66L16.28 -9.66L16.22 -9.59L16.09 -9.59ZM15.91 -4.09L16.41 -4.34L17.78 -4.34L18.41 -4.03L18.66 -3.78L18.91 -3.28L18.91 -1.78L18.66 -1.28L18.41 -1.03L17.78 -0.72L16.41 -0.72L15.91 -0.97L15.59 -1.28L15.28 -1.91L15.28 -3.22L15.53 -3.72ZM15.91 -7.84L16.09 -8.03L16.34 -8.16L17.91 -8.16L18.16 -8.03L18.28 -7.91L18.47 -7.53L18.47 -6.47L18.34 -6.22L18.16 -6.03L17.78 -5.84L16.41 -5.84L16.03 -6.03L15.91 -6.16L15.72 -6.53L15.72 -7.47ZM3.59 -9.66L2.22 -9.16L1.91 -8.84L1.66 -8.41L1.09 -7.66L1.09 -7.53L0.97 -7.28L0.97 -7.03L0.91 -6.97L0.91 -6.72L0.84 -6.66L0.84 -6.41L0.78 -6.34L0.78 -6.09L0.72 -6.03L0.59 -5.16L0.53 -5.09L0.53 -3.78L0.59 -3.72L0.59 -3.47L0.66 -3.41L0.66 -3.16L0.72 -3.09L0.72 -2.84L0.78 -2.78L0.78 -2.53L0.84 -2.47L0.84 -2.22L0.91 -2.16L0.91 -1.91L0.97 -1.84L1.03 -1.41L1.59 -0.59L1.91 -0.03L2.28 0.22L2.34 0.34L2.47 0.34L3.47 0.72L3.78 0.72L3.84 0.78L4.72 0.78L4.78 0.72L5.09 0.72L5.16 0.66L6.22 0.34L6.66 0.03L6.97 -0.53L7.47 -1.22L7.47 -1.34L7.66 -1.66L7.66 -1.91L7.72 -1.97L7.72 -2.22L7.78 -2.28L7.78 -2.53L7.84 -2.59L7.84 -2.84L7.91 -2.91L7.91 -3.16L7.97 -3.22L7.97 -3.47L8.03 -3.53L8.03 -3.66L7.97 -3.72L8.03 -3.78L8.03 -5.09L7.97 -5.16L8.03 -5.22L8.03 -5.34L7.97 -5.41L7.97 -5.66L7.84 -5.97L7.84 -6.22L7.78 -6.28L7.66 -7.16L7.47 -7.53L7.47 -7.72L7.03 -8.28L6.66 -8.91L6.41 -9.16L5.03 -9.66L4.91 -9.59L4.78 -9.59L4.72 -9.66L3.84 -9.66L3.72 -9.59ZM3.97 -8.16L4.66 -8.16L5.03 -7.97L5.41 -7.59L5.78 -6.84L5.78 -6.59L5.84 -6.53L5.84 -6.28L5.91 -6.22L5.91 -5.97L5.97 -5.91L5.97 -5.66L6.03 -5.59L6.03 -5.34L6.09 -5.28L6.09 -3.66L6.03 -3.59L6.03 -3.34L5.97 -3.28L5.97 -3.03L5.91 -2.97L5.78 -2.09L5.41 -1.28L5.16 -1.03L4.59 -0.72L4.03 -0.72L3.41 -1.03L3.22 -1.22L2.84 -2.03L2.84 -2.28L2.78 -2.34L2.78 -2.59L2.72 -2.66L2.59 -3.53L2.47 -3.84L2.47 -5.03L2.53 -5.09L2.53 -5.34L2.59 -5.41L2.59 -5.66L2.66 -5.72L2.66 -5.97L2.72 -6.03L2.84 -6.91L3.22 -7.66L3.47 -7.91Z" fill-rule="evenodd"/>
<path id="t17" d="M4.72 -9.66L4.22 -9.47L3.03 -8.28L2.28 -7.91L1.97 -7.59L1.91 -7.28L1.84 -7.22L1.91 -7.16L1.97 -6.84L2.34 -6.53L2.53 -6.53L2.59 -6.47L2.66 -6.53L2.91 -6.53L3.47 -6.84L3.53 -6.78L3.53 -0.78L3.47 -0.72L2.59 -0.72L2.53 -0.66L2.34 -0.66L1.97 -0.34L1.91 -0.03L1.84 0.03L1.91 0.09L1.97 0.41L2.22 0.66L2.53 0.72L2.59 0.78L6.41 0.78L6.47 0.72L6.78 0.66L7.03 0.41L7.09 0.09L7.16 0.03L7.09 -0.03L7.03 -0.34L6.66 -0.66L6.47 -0.66L6.41 -0.72L5.53 -0.72L5.47 -0.78L5.47 -8.91L5.41 -8.97L5.34 -9.28L5.09 -9.53L4.78 -9.59Z" fill-rule="evenodd"/>
<path id="t18" d="M144.47 -6.72L144.34 -6.59L143.41 -6.16L142.91 -5.66L142.91 -5.53L142.78 -5.41L142.78 -5.16L142.72 -5.09L142.72 -4.22L142.78 -4.16L142.78 -3.91L142.91 -3.78L142.91 -3.66L143.59 -3.03L143.72 -3.03L144.66 -2.53L144.78 -2.53L144.97 -2.41L145.09 -2.41L145.28 -2.28L145.41 -2.28L145.59 -2.16L145.72 -2.16L145.91 -2.03L146.34 -1.91L147.41 -1.34L147.41 -1.16L146.72 -0.78L145.34 -0.78L144.97 -0.97L144.53 -1.41L144.28 -1.97L144.03 -2.28L143.84 -2.41L143.59 -2.41L143.53 -2.47L143.47 -2.41L143.22 -2.41L142.91 -2.16L142.78 -1.97L142.78 -1.72L142.72 -1.66L142.72 0.03L142.78 0.09L142.78 0.34L143.03 0.66L143.22 0.78L143.47 0.78L143.53 0.84L143.59 0.78L143.84 0.78L144.22 0.47L144.84 0.78L145.16 0.78L145.22 0.84L146.91 0.84L146.97 0.78L147.28 0.78L148.16 0.34L148.22 0.22L148.41 0.16L148.78 -0.22L148.84 -0.41L148.97 -0.53L148.97 -0.78L149.03 -0.84L149.03 -2.09L148.97 -2.16L148.97 -2.41L148.84 -2.59L148.28 -3.16L148.16 -3.22L148.16 -3.28L148.03 -3.28L147.84 -3.41L147.91 -3.47L148.16 -3.47L148.22 -3.41L148.28 -3.47L148.53 -3.47L148.72 -3.59L148.97 -3.91L148.97 -4.16L149.03 -4.22L149.03 -5.97L148.97 -6.03L148.97 -6.28L148.72 -6.59L148.53 -6.72L148.28 -6.72L148.22 -6.78L148.16 -6.72L147.91 -6.72L147.72 -6.59L147.53 -6.34L146.78 -6.72L146.53 -6.72L146.47 -6.78L144.78 -6.78L144.72 -6.72ZM144.53 -4.91L144.97 -5.16L146.28 -5.16L146.91 -4.84L147.09 -4.66L147.41 -3.97L147.59 -3.72L147.91 -3.47L147.78 -3.41L146.97 -3.84L146.84 -3.84L146.66 -3.97L146.53 -3.97L146.34 -4.09L146.22 -4.09L146.03 -4.22L145.91 -4.22L145.72 -4.34L145.59 -4.34L145.41 -4.47L144.97 -4.59L144.59 -4.78ZM137.97 -6.78L137.91 -6.72L137.66 -6.72L137.59 -6.66L136.34 -6.28L136.16 -6.16L135.22 -5.22L135.22 -5.09L135.03 -4.91L134.91 -4.41L134.78 -4.22L134.78 -4.09L134.59 -3.66L134.66 -3.59L134.66 -3.47L134.59 -3.41L134.59 -2.53L134.66 -2.47L134.66 -2.34L134.59 -2.28L134.66 -2.22L135.03 -0.97L135.22 -0.78L135.22 -0.66L136.03 0.16L136.22 0.22L136.41 0.41L136.53 0.41L137.53 0.78L137.91 0.78L137.97 0.84L138.78 0.84L138.84 0.78L139.22 0.78L139.28 0.72L140.34 0.41L140.53 0.22L140.72 0.16L141.72 -0.91L141.72 -1.16L141.78 -1.22L141.72 -1.28L141.72 -1.53L141.59 -1.72L141.28 -1.97L141.03 -1.97L140.97 -2.03L140.91 -1.97L140.66 -1.97L140.41 -1.78L140.34 -1.84L139.59 -1.09L139.47 -1.03L139.34 -1.03L138.72 -0.78L138.09 -0.78L137.72 -0.97L136.91 -1.78L136.91 -1.91L136.66 -2.53L136.72 -2.59L140.97 -2.59L141.03 -2.66L141.28 -2.66L141.47 -2.78L141.72 -3.09L141.72 -3.34L141.78 -3.41L141.78 -4.22L141.72 -4.28L141.72 -4.53L141.28 -5.41L140.59 -6.16L139.53 -6.72L139.28 -6.72L139.22 -6.78ZM137.03 -4.28L137.53 -4.84L138.16 -5.16L139.03 -5.16L139.41 -4.97L139.53 -4.84L139.72 -4.47L139.72 -4.28L139.66 -4.22L137.09 -4.22ZM129.97 -6.72L129.66 -6.47L129.53 -6.28L129.53 -6.03L129.47 -5.97L129.53 -5.91L129.53 -5.66L129.78 -5.34L129.97 -5.22L130.66 -5.16L130.72 -5.09L130.72 -0.84L130.66 -0.78L129.97 -0.72L129.78 -0.59L129.53 -0.28L129.53 -0.03L129.47 0.03L129.53 0.09L129.53 0.34L129.78 0.66L129.97 0.78L130.22 0.78L130.28 0.84L133.28 0.84L133.34 0.78L133.59 0.78L133.78 0.66L134.03 0.34L134.03 0.09L134.09 0.03L134.03 -0.03L134.03 -0.28L133.91 -0.47L133.59 -0.72L132.84 -0.78L132.78 -0.84L132.78 -5.97L132.72 -6.03L132.72 -6.28L132.47 -6.59L132.28 -6.72L132.03 -6.72L131.97 -6.78L130.28 -6.78L130.22 -6.72ZM113.28 -5.41L113.28 -5.16L113.22 -5.09L113.28 -4.34L113.53 -4.03L113.72 -3.91L113.97 -3.91L114.03 -3.84L113.84 -3.72L113.72 -3.72L113.41 -3.47L112.84 -2.41L112.84 -2.16L112.78 -2.09L112.78 -1.22L112.84 -1.16L112.84 -0.91L112.97 -0.78L113.28 -0.09L113.41 0.09L113.78 0.41L113.91 0.41L114.91 0.78L115.28 0.78L115.34 0.84L116.59 0.84L116.66 0.78L116.97 0.78L117.84 0.34L117.91 0.22L118.16 0.16L118.28 0.22L118.34 0.34L119.22 0.78L120.03 0.84L120.09 0.78L120.34 0.78L120.53 0.66L120.78 0.34L120.78 0.09L120.91 0.03L120.97 0.09L120.97 0.34L121.09 0.53L121.41 0.78L121.66 0.78L121.72 0.84L124.28 0.84L124.34 0.78L124.59 0.78L124.78 0.66L125.03 0.34L125.03 0.09L125.16 0.03L125.22 0.09L125.22 0.34L125.34 0.53L125.66 0.78L125.91 0.78L125.97 0.84L128.53 0.84L128.59 0.78L128.84 0.78L129.03 0.66L129.28 0.34L129.28 0.09L129.34 0.03L129.28 -0.03L129.28 -0.28L129.16 -0.47L128.84 -0.72L128.16 -0.78L127.84 -1.09L127.84 -1.16L127.59 -1.41L127.41 -1.72L126.34 -3.03L126.47 -3.28L126.84 -3.66L126.84 -3.72L128.09 -5.16L128.84 -5.22L129.16 -5.47L129.28 -5.66L129.28 -5.91L129.34 -5.97L129.28 -6.03L129.28 -6.28L129.16 -6.47L128.84 -6.72L128.59 -6.72L128.53 -6.78L125.97 -6.78L125.91 -6.72L125.66 -6.72L125.34 -6.47L125.22 -6.28L125.22 -6.03L125.16 -5.97L125.03 -6.03L125.03 -6.28L124.78 -6.59L124.59 -6.72L124.34 -6.72L124.28 -6.78L121.72 -6.78L121.66 -6.72L121.41 -6.72L121.22 -6.59L120.97 -6.28L120.97 -6.03L120.91 -5.97L120.97 -5.91L120.97 -5.66L121.09 -5.47L121.41 -5.22L122.16 -5.16L122.66 -4.59L123.97 -2.84L122.22 -0.78L121.72 -0.78L121.66 -0.72L121.41 -0.72L121.09 -0.47L120.97 -0.28L120.97 -0.03L120.91 0.03L120.78 -0.03L120.78 -0.28L120.53 -0.59L120.34 -0.72L120.09 -0.72L119.84 -0.84L119.53 -1.47L119.53 -4.22L119.47 -4.28L119.47 -4.66L119.09 -5.41L118.91 -5.53L118.91 -5.66L118.41 -6.16L117.34 -6.72L117.09 -6.72L117.03 -6.78L115.34 -6.78L115.28 -6.72L115.03 -6.72L113.97 -6.16ZM125.03 -1.53L125.66 -0.72L125.34 -0.47L125.22 -0.28L125.22 -0.03L125.16 0.03L125.03 -0.03L125.03 -0.28L124.91 -0.47L124.59 -0.72L124.41 -0.72L124.34 -0.78ZM117.47 -2.84L117.47 -1.59L116.91 -1.03L116.41 -0.78L115.47 -0.78L115.22 -0.91L114.97 -1.16L114.84 -1.41L114.84 -1.91L115.03 -2.28L115.16 -2.41L115.78 -2.66L116.09 -2.66L116.16 -2.72L116.47 -2.72L116.53 -2.78L116.84 -2.78L116.91 -2.84L117.22 -2.84L117.28 -2.91L117.41 -2.91ZM115.09 -4.22L115.22 -4.34L115.28 -4.97L115.53 -5.16L116.84 -5.16L117.34 -4.91L117.47 -4.78L117.47 -4.59L117.41 -4.53L116.78 -4.47L116.72 -4.41L116.41 -4.41L116.34 -4.34L116.03 -4.34L115.97 -4.28L115.66 -4.28L115.59 -4.22L115.28 -4.22L115.22 -4.16ZM125.09 -5.97L125.22 -5.91L125.22 -5.66L125.47 -5.34L125.66 -5.22L125.91 -5.22L125.97 -5.16L125.28 -4.41L124.66 -5.16L124.66 -5.28L124.78 -5.34L125.03 -5.66L125.03 -5.91ZM72.22 -6.78L72.16 -6.72L71.91 -6.72L71.84 -6.66L70.59 -6.28L70.41 -6.16L69.41 -5.16L69.28 -4.97L69.28 -4.84L68.84 -3.66L68.91 -3.59L68.91 -3.47L68.84 -3.41L68.84 -2.53L68.91 -2.47L68.91 -2.34L68.84 -2.28L69.16 -1.47L69.16 -1.28L69.22 -1.22L69.28 -0.91L70.28 0.16L70.47 0.22L70.66 0.41L70.78 0.41L71.78 0.78L72.16 0.78L72.22 0.84L73.03 0.84L73.09 0.78L73.41 0.78L74.41 0.41L74.59 0.41L74.78 0.22L74.97 0.16L75.78 -0.66L75.78 -0.78L75.97 -0.97L75.97 -1.09L76.41 -2.28L76.34 -2.34L76.34 -2.47L76.41 -2.53L76.41 -3.41L76.34 -3.47L76.34 -3.59L76.41 -3.66L76.34 -3.72L76.22 -4.22L76.09 -4.41L75.97 -4.91L75.78 -5.09L75.78 -5.22L74.84 -6.16L74.66 -6.28L74.53 -6.28L73.34 -6.72L73.09 -6.72L73.03 -6.78ZM72.41 -5.16L72.84 -5.16L73.47 -4.84L74.09 -4.16L74.09 -4.03L74.34 -3.41L74.34 -2.53L74.28 -2.47L74.09 -1.78L73.34 -1.03L72.84 -0.78L72.34 -0.78L71.84 -1.03L71.22 -1.66L71.03 -2.28L70.84 -2.66L70.84 -3.22L70.91 -3.28L71.22 -4.28L71.78 -4.84ZM52.34 -6.47L52.22 -6.28L52.22 -6.03L52.16 -5.97L52.22 -5.91L52.22 -5.66L52.34 -5.47L52.66 -5.22L53.41 -5.16L53.47 -5.09L53.47 -0.84L53.41 -0.78L52.66 -0.72L52.34 -0.47L52.22 -0.28L52.22 -0.03L52.16 0.03L52.22 0.09L52.22 0.34L52.47 0.66L52.66 0.78L52.91 0.78L52.97 0.84L55.97 0.84L56.03 0.78L56.28 0.78L56.47 0.66L56.72 0.34L56.72 0.09L56.78 0.03L56.91 0.09L56.91 0.34L57.16 0.66L57.34 0.78L57.59 0.78L57.66 0.84L60.66 0.84L60.72 0.78L60.97 0.78L61.28 0.53L61.41 0.34L61.41 0.09L61.47 0.03L61.41 -0.03L61.41 -0.28L61.28 -0.47L60.97 -0.72L60.28 -0.78L60.22 -0.84L60.22 -4.66L60.16 -4.72L60.16 -4.97L59.72 -5.84L59.47 -6.16L59.28 -6.28L59.16 -6.28L57.97 -6.72L57.72 -6.72L57.66 -6.78L56.84 -6.78L56.78 -6.72L56.53 -6.72L55.53 -6.34L55.34 -6.34L55.28 -6.47L54.97 -6.72L54.72 -6.72L54.66 -6.78L52.97 -6.78L52.91 -6.72L52.66 -6.72ZM57.47 -5.16L57.84 -4.97L57.97 -4.84L58.16 -4.47L58.16 -0.84L58.09 -0.78L57.34 -0.72L57.03 -0.47L56.91 -0.28L56.91 -0.03L56.78 0.03L56.72 -0.03L56.72 -0.28L56.47 -0.59L56.28 -0.72L55.53 -0.78L55.47 -0.84L55.47 -4.28L55.72 -4.53L55.72 -4.59L56.03 -4.84L56.16 -4.84L56.97 -5.16ZM47.41 -6.78L47.34 -6.72L47.09 -6.72L46.91 -6.59L45.84 -6.28L45.66 -6.16L44.66 -5.16L44.41 -4.66L44.41 -4.53L44.09 -3.72L44.09 -3.47L44.03 -3.41L44.03 -2.53L44.09 -2.47L44.09 -2.22L44.16 -2.16L44.53 -0.91L45.53 0.16L45.72 0.22L45.91 0.41L46.03 0.41L47.03 0.78L47.34 0.78L47.41 0.84L48.28 0.84L48.34 0.78L48.66 0.78L49.66 0.41L49.84 0.41L51.03 -0.72L51.22 -0.97L51.22 -1.16L51.59 -2.16L51.59 -2.47L51.66 -2.53L51.66 -3.41L51.59 -3.47L51.59 -3.78L51.53 -3.84L51.22 -4.91L51.03 -5.09L50.97 -5.28L50.09 -6.16L49.91 -6.28L49.78 -6.28L48.59 -6.72L48.34 -6.72L48.28 -6.78ZM47.66 -5.16L48.09 -5.16L48.59 -4.91L49.28 -4.22L49.53 -3.41L49.59 -3.34L49.59 -2.59L49.53 -2.53L49.28 -1.72L48.59 -1.03L48.09 -0.78L47.59 -0.78L47.09 -1.03L46.41 -1.72L46.41 -1.84L46.09 -2.66L46.09 -3.28L46.16 -3.34L46.41 -4.22L47.03 -4.84ZM39.41 -6.72L39.09 -6.47L38.97 -6.28L38.97 -6.03L38.91 -5.97L38.97 -5.91L38.97 -5.66L39.22 -5.34L39.41 -5.22L40.16 -5.16L40.22 -5.09L40.22 -0.84L40.16 -0.78L39.41 -0.72L39.22 -0.59L38.97 -0.28L38.97 -0.03L38.91 0.03L38.97 0.09L38.97 0.34L39.22 0.66L39.41 0.78L39.66 0.78L39.72 0.84L42.72 0.84L42.78 0.78L43.03 0.78L43.34 0.53L43.47 0.34L43.47 0.09L43.53 0.03L43.47 -0.03L43.47 -0.28L43.22 -0.59L43.03 -0.72L42.34 -0.78L42.28 -0.84L42.28 -5.97L42.22 -6.03L42.22 -6.28L41.97 -6.59L41.78 -6.72L41.53 -6.72L41.47 -6.78L39.72 -6.78L39.66 -6.72ZM28.22 -6.78L28.16 -6.72L27.91 -6.72L27.84 -6.66L26.59 -6.28L25.53 -5.28L25.47 -5.09L25.28 -4.91L25.28 -4.78L24.91 -3.78L24.91 -3.47L24.84 -3.41L24.84 -2.53L24.91 -2.47L24.91 -2.16L25.09 -1.72L25.09 -1.53L25.16 -1.47L25.28 -0.97L26.41 0.22L26.66 0.41L26.78 0.41L27.78 0.78L28.16 0.78L28.22 0.84L29.09 0.84L29.16 0.78L29.47 0.78L29.53 0.72L30.59 0.41L30.78 0.22L30.97 0.16L31.97 -0.91L31.97 -1.16L32.03 -1.22L31.97 -1.28L31.97 -1.53L31.72 -1.84L31.53 -1.97L31.28 -1.97L31.22 -2.03L31.16 -1.97L30.91 -1.97L30.78 -1.84L30.66 -1.84L29.91 -1.09L29.78 -1.09L28.97 -0.78L28.34 -0.78L27.97 -0.97L27.22 -1.72L27.09 -2.16L26.91 -2.53L26.91 -3.34L26.97 -3.41L27.22 -4.22L27.91 -4.91L28.41 -5.16L29.28 -5.16L29.66 -4.97L29.78 -4.84L29.72 -4.66L29.59 -4.53L29.59 -4.28L29.53 -4.22L29.59 -4.16L29.59 -3.91L29.72 -3.72L30.28 -3.16L30.47 -3.03L30.72 -3.03L30.78 -2.97L30.84 -3.03L31.09 -3.03L31.28 -3.16L31.84 -3.72L31.97 -3.91L32.03 -4.66L31.97 -4.72L31.97 -4.97L31.84 -5.16L30.84 -6.16L29.78 -6.72L29.53 -6.72L29.47 -6.78ZM16.91 -5.59L16.78 -5.41L16.78 -5.16L16.72 -5.09L16.78 -4.34L17.03 -4.03L17.22 -3.91L17.47 -3.91L17.53 -3.84L17.34 -3.72L17.22 -3.72L17.03 -3.59L16.84 -3.34L16.78 -3.34L16.41 -2.59L16.34 -2.16L16.28 -2.09L16.28 -1.22L16.34 -1.16L16.34 -0.91L16.47 -0.78L16.78 -0.16L16.78 -0.03L16.84 -0.03L17.03 0.22L17.28 0.41L17.41 0.41L18.41 0.78L18.78 0.78L18.84 0.84L20.09 0.84L20.16 0.78L20.47 0.78L21.34 0.34L21.34 0.28L21.53 0.16L21.78 0.22L21.84 0.34L22.72 0.78L23.03 0.78L23.09 0.84L23.84 0.78L24.16 0.53L24.28 0.34L24.28 0.09L24.34 0.03L24.28 -0.03L24.28 -0.28L24.16 -0.47L23.84 -0.72L23.41 -0.78L23.16 -1.28L23.03 -1.41L23.03 -4.22L22.97 -4.28L22.97 -4.66L22.59 -5.41L22.41 -5.53L22.41 -5.66L21.91 -6.16L20.84 -6.72L20.59 -6.72L20.53 -6.78L18.84 -6.78L18.78 -6.72L18.53 -6.72L17.66 -6.28ZM20.97 -2.84L20.97 -1.59L20.41 -1.03L19.91 -0.78L18.97 -0.78L18.53 -1.03L18.34 -1.41L18.34 -1.91L18.53 -2.28L18.66 -2.41L19.28 -2.66L19.59 -2.66L19.66 -2.72L19.97 -2.72L20.03 -2.78L20.34 -2.78L20.41 -2.84L20.72 -2.84L20.78 -2.91L20.91 -2.91ZM18.59 -4.22L18.66 -4.28L18.72 -4.22L18.66 -4.16ZM18.66 -4.28L18.72 -4.34L18.72 -4.59L18.78 -4.66L18.78 -4.97L19.03 -5.16L20.34 -5.16L20.84 -4.91L20.97 -4.78L20.97 -4.59L20.91 -4.53L20.59 -4.53L20.53 -4.47L20.22 -4.47L20.16 -4.41L19.84 -4.41L19.78 -4.34L19.47 -4.34L19.41 -4.28L19.09 -4.28L19.03 -4.22L18.72 -4.22ZM9.09 -6.72L8.78 -6.47L8.66 -6.28L8.66 -6.03L8.59 -5.97L8.66 -5.91L8.66 -5.66L8.91 -5.34L9.09 -5.22L9.84 -5.16L9.91 -5.09L9.91 -0.84L9.84 -0.78L9.09 -0.72L8.91 -0.59L8.66 -0.28L8.66 -0.03L8.59 0.03L8.66 0.09L8.66 0.34L8.91 0.66L9.09 0.78L9.34 0.78L9.41 0.84L12.41 0.84L12.47 0.78L12.72 0.78L12.91 0.66L13.16 0.34L13.16 0.09L13.22 0.03L13.16 -0.03L13.16 -0.28L13.03 -0.47L12.72 -0.72L12.03 -0.78L11.97 -0.84L11.97 -3.41L12.03 -3.47L12.22 -4.16L12.84 -4.84L13.28 -5.03L13.34 -4.97L13.34 -4.78L13.47 -4.59L14.03 -4.03L14.22 -3.91L14.47 -3.91L14.53 -3.84L14.59 -3.91L14.84 -3.91L15.03 -4.03L15.72 -4.78L15.72 -5.03L15.78 -5.09L15.72 -5.84L15.03 -6.59L14.84 -6.72L14.59 -6.72L14.53 -6.78L13.28 -6.78L13.22 -6.72L12.97 -6.72L12.09 -6.28L11.97 -6.16L11.66 -6.59L11.47 -6.72L11.22 -6.72L11.16 -6.78L9.41 -6.78L9.34 -6.72ZM131.53 -9.72L131.47 -9.66L131.22 -9.66L131.09 -9.53L130.97 -9.53L130.47 -9.03L130.34 -8.84L130.34 -8.59L130.28 -8.53L130.34 -8.47L130.34 -8.22L130.47 -8.09L130.53 -7.91L130.91 -7.53L131.09 -7.47L131.22 -7.34L131.47 -7.34L131.53 -7.28L131.59 -7.34L131.84 -7.34L131.97 -7.47L132.16 -7.53L132.53 -7.91L132.59 -8.09L132.72 -8.22L132.72 -8.47L132.78 -8.53L132.72 -8.59L132.72 -8.84L132.59 -9.03L132.09 -9.53L131.97 -9.53L131.84 -9.66L131.59 -9.66ZM110.84 -9.41L110.53 -9.66L110.28 -9.66L110.22 -9.72L108.47 -9.72L108.41 -9.66L108.16 -9.66L107.97 -9.53L107.72 -9.22L107.72 -8.97L107.66 -8.91L107.72 -8.84L107.72 -8.59L107.97 -8.28L108.16 -8.16L108.91 -8.09L108.97 -8.03L108.97 -0.84L108.91 -0.78L108.16 -0.72L107.84 -0.47L107.72 -0.28L107.72 -0.03L107.59 0.03L107.53 -0.03L107.53 -0.28L107.28 -0.59L107.09 -0.72L106.84 -0.72L106.53 -0.97L106.34 -1.34L106.34 -4.22L106.28 -4.28L106.28 -4.53L105.72 -5.59L105.16 -6.16L104.09 -6.72L103.84 -6.72L103.78 -6.78L102.09 -6.78L102.03 -6.72L101.78 -6.72L100.72 -6.16L100.03 -5.41L100.03 -5.16L99.97 -5.09L100.03 -4.34L100.28 -4.03L100.47 -3.91L100.72 -3.91L100.78 -3.84L100.59 -3.72L100.47 -3.72L100.16 -3.47L99.66 -2.53L99.66 -2.16L99.59 -2.09L99.59 -1.22L99.66 -1.16L99.66 -0.84L100.16 0.09L100.53 0.41L100.66 0.41L101.66 0.78L102.03 0.78L102.09 0.84L103.34 0.84L103.41 0.78L103.72 0.78L104.59 0.34L104.66 0.22L104.91 0.09L105.09 0.22L105.16 0.34L105.47 0.47L105.59 0.59L105.97 0.78L106.78 0.84L106.84 0.78L107.09 0.78L107.28 0.66L107.53 0.34L107.53 0.09L107.59 0.03L107.72 0.09L107.72 0.34L107.97 0.66L108.16 0.78L108.41 0.78L108.47 0.84L111.47 0.84L111.53 0.78L111.78 0.78L111.97 0.66L112.22 0.34L112.22 0.09L112.28 0.03L112.22 -0.03L112.22 -0.28L112.09 -0.47L111.78 -0.72L111.09 -0.78L111.03 -0.84L111.03 -8.91L110.97 -8.97L110.97 -9.22ZM104.28 -2.84L104.28 -1.66L103.59 -0.97L103.22 -0.78L102.22 -0.78L101.97 -0.91L101.78 -1.09L101.59 -1.47L101.59 -1.91L101.78 -2.28L101.91 -2.41L102.53 -2.66L102.84 -2.66L102.91 -2.72L103.22 -2.72L103.28 -2.78L103.59 -2.78L103.66 -2.84L103.97 -2.84L104.03 -2.91L104.22 -2.91ZM101.84 -4.22L101.97 -4.34L102.03 -4.97L102.28 -5.16L103.59 -5.16L104.28 -4.78L104.28 -4.66L104.16 -4.53L103.53 -4.47L103.47 -4.41L103.16 -4.41L103.09 -4.34L102.78 -4.34L102.72 -4.28L102.41 -4.28L102.34 -4.22L102.03 -4.22L101.97 -4.16ZM91.97 -9.28L91.78 -9.16L90.78 -8.16L90.72 -8.03L90.66 -8.03L90.28 -7.28L90.16 -6.78L90.03 -6.59L90.03 -6.47L89.78 -5.84L89.78 -5.59L89.72 -5.53L89.72 -3.41L89.78 -3.34L89.78 -3.09L89.84 -3.03L90.22 -1.78L90.66 -0.91L91.66 0.16L91.84 0.22L92.03 0.41L92.16 0.41L93.16 0.78L93.47 0.78L93.53 0.84L94.41 0.84L94.47 0.78L94.78 0.78L95.84 0.41L95.91 0.53L96.22 0.78L96.47 0.78L96.53 0.84L96.59 0.78L96.91 0.78L96.97 0.84L97.03 0.78L97.28 0.78L97.59 0.53L97.72 0.34L97.72 0.09L97.78 0.03L97.78 -2.53L97.84 -2.59L98.53 -2.66L98.84 -2.91L98.97 -3.09L98.97 -3.34L99.03 -3.41L98.97 -3.47L98.97 -3.72L98.84 -3.91L98.53 -4.16L98.28 -4.16L98.22 -4.22L95.28 -4.22L95.22 -4.16L94.97 -4.16L94.78 -4.03L94.53 -3.72L94.53 -3.47L94.47 -3.41L94.53 -3.34L94.53 -3.09L94.66 -2.91L94.97 -2.66L95.66 -2.59L95.72 -2.53L95.72 -1.59L95.09 -1.03L94.97 -1.03L94.34 -0.78L93.66 -0.78L93.28 -0.97L92.47 -1.78L92.16 -2.41L92.16 -2.53L91.78 -3.53L91.78 -5.41L91.84 -5.47L92.09 -6.34L92.47 -7.09L93.34 -7.97L93.59 -8.09L94.41 -8.09L94.47 -8.03L95.16 -7.84L95.84 -7.16L96.16 -6.16L96.34 -5.84L96.66 -5.59L96.91 -5.59L96.97 -5.53L97.03 -5.59L97.28 -5.59L97.59 -5.84L97.72 -6.03L97.72 -6.28L97.78 -6.34L97.78 -8.91L97.72 -8.97L97.72 -9.22L97.47 -9.53L97.28 -9.66L97.03 -9.66L96.97 -9.72L96.91 -9.66L96.66 -9.66L96.47 -9.53L96.16 -9.16L95.97 -9.28L95.84 -9.28L94.66 -9.72L94.59 -9.66L94.47 -9.66L94.41 -9.72L93.53 -9.72L93.47 -9.66L93.34 -9.66L93.28 -9.72L93.22 -9.66ZM81.47 -9.66L81.22 -9.66L81.16 -9.72L80.28 -9.72L80.22 -9.66L79.91 -9.66L78.97 -9.16L78.72 -8.84L78.28 -8.03L78.28 -7.72L78.22 -7.66L78.22 -6.84L78.16 -6.78L77.41 -6.72L77.22 -6.59L76.97 -6.28L76.97 -6.03L76.91 -5.97L76.97 -5.91L76.97 -5.66L77.22 -5.34L77.41 -5.22L78.16 -5.16L78.22 -5.09L78.22 -0.84L78.16 -0.78L77.41 -0.72L77.09 -0.47L76.97 -0.28L76.97 -0.03L76.91 0.03L76.97 0.09L76.97 0.34L77.09 0.53L77.41 0.78L77.66 0.78L77.72 0.84L80.72 0.84L80.78 0.78L81.03 0.78L81.22 0.66L81.47 0.34L81.47 0.09L81.53 0.03L81.47 -0.03L81.47 -0.28L81.34 -0.47L81.03 -0.72L80.34 -0.78L80.28 -0.84L80.28 -5.09L80.34 -5.16L81.16 -5.16L81.22 -5.22L81.47 -5.22L81.78 -5.47L81.91 -5.66L81.91 -5.91L81.97 -5.97L81.91 -6.03L81.91 -6.28L81.66 -6.59L81.47 -6.72L81.22 -6.72L81.16 -6.84L81.22 -6.91L81.47 -6.91L81.66 -7.03L82.22 -7.59L82.34 -7.78L82.34 -8.03L82.41 -8.09L82.34 -8.84L81.72 -9.53L81.59 -9.53ZM80.28 -7.28L80.34 -7.34L80.84 -6.91L81.09 -6.91L81.16 -6.84L81.09 -6.78L80.34 -6.78L80.28 -6.84ZM41.03 -9.72L40.97 -9.66L40.72 -9.66L40.59 -9.53L40.47 -9.53L39.97 -9.03L39.84 -8.84L39.84 -8.59L39.78 -8.53L39.84 -8.47L39.84 -8.22L39.97 -8.09L40.03 -7.91L40.41 -7.53L40.59 -7.47L40.72 -7.34L40.97 -7.34L41.03 -7.28L41.09 -7.34L41.34 -7.34L41.47 -7.47L41.66 -7.53L42.03 -7.91L42.09 -8.09L42.22 -8.22L42.22 -8.47L42.28 -8.53L42.22 -8.59L42.22 -8.84L42.09 -9.03L41.59 -9.53L41.47 -9.53L41.34 -9.66L41.09 -9.66ZM34.28 -9.66L33.97 -9.41L33.84 -9.22L33.84 -8.97L33.78 -8.91L33.78 -6.84L33.72 -6.78L33.03 -6.72L32.84 -6.59L32.59 -6.28L32.59 -6.03L32.53 -5.97L32.59 -5.91L32.59 -5.66L32.72 -5.47L33.03 -5.22L33.72 -5.16L33.78 -5.09L33.78 -1.66L33.84 -1.59L33.84 -1.34L33.91 -1.28L34.22 -0.22L34.41 0.09L34.59 0.22L34.66 0.34L35.53 0.78L35.84 0.78L35.91 0.84L36.78 0.84L36.84 0.78L37.09 0.78L37.97 0.34L37.97 0.28L38.09 0.22L38.28 -0.03L38.34 -0.03L38.78 -0.91L38.78 -1.16L38.84 -1.22L38.78 -1.28L38.78 -1.53L38.66 -1.72L38.34 -1.97L38.09 -1.97L38.03 -2.03L37.97 -1.97L37.72 -1.97L37.53 -1.84L37.41 -1.66L37.28 -1.59L36.97 -0.97L36.59 -0.78L36.22 -0.78L35.84 -1.78L35.84 -5.09L35.91 -5.16L36.78 -5.16L36.84 -5.22L37.09 -5.22L37.28 -5.34L37.53 -5.66L37.53 -5.91L37.59 -5.97L37.53 -6.03L37.53 -6.28L37.41 -6.47L37.09 -6.72L36.84 -6.72L36.78 -6.78L35.91 -6.78L35.84 -6.84L35.84 -8.91L35.78 -8.97L35.78 -9.22L35.66 -9.41L35.34 -9.66L35.09 -9.66L35.03 -9.72L34.97 -9.66L34.66 -9.66L34.59 -9.72L34.53 -9.66ZM8.03 -9.66L7.78 -9.66L7.72 -9.72L0.91 -9.72L0.84 -9.66L0.59 -9.66L0.28 -9.41L0.16 -9.22L0.16 -8.97L0.09 -8.91L0.16 -8.84L0.16 -8.59L0.28 -8.41L0.59 -8.16L1.28 -8.09L1.34 -8.03L1.34 -0.84L1.28 -0.78L0.59 -0.72L0.41 -0.59L0.16 -0.28L0.16 -0.03L0.09 0.03L0.16 0.09L0.16 0.34L0.41 0.66L0.59 0.78L0.84 0.78L0.91 0.84L3.84 0.84L3.91 0.78L4.16 0.78L4.47 0.53L4.59 0.34L4.59 0.09L4.66 0.03L4.59 -0.03L4.59 -0.28L4.47 -0.47L4.16 -0.72L3.47 -0.78L3.41 -0.84L3.41 -3.78L3.47 -3.84L4.28 -3.84L4.34 -3.78L4.34 -2.97L4.41 -2.91L4.41 -2.66L4.53 -2.47L4.84 -2.22L5.09 -2.22L5.16 -2.16L5.22 -2.22L5.47 -2.22L5.66 -2.34L5.91 -2.66L5.91 -2.91L5.97 -2.97L5.97 -6.34L5.91 -6.41L5.91 -6.66L5.66 -6.97L5.47 -7.09L5.22 -7.09L5.16 -7.16L5.09 -7.09L4.84 -7.09L4.66 -6.97L4.41 -6.66L4.41 -6.41L4.34 -6.34L4.34 -5.53L4.28 -5.47L3.47 -5.47L3.41 -5.53L3.41 -8.03L3.47 -8.09L6.53 -8.09L6.66 -7.91L6.66 -7.59L6.72 -7.53L6.72 -7.22L6.78 -7.16L6.78 -6.84L6.84 -6.78L6.84 -6.47L6.91 -6.41L6.97 -6.03L7.09 -5.84L7.41 -5.59L7.66 -5.59L7.72 -5.53L7.78 -5.59L8.03 -5.59L8.34 -5.84L8.47 -6.03L8.47 -6.28L8.53 -6.34L8.53 -8.91L8.47 -8.97L8.47 -9.22L8.34 -9.41Z" fill-rule="evenodd"/>
<g id="dz" fill="none" stroke="#0000ff" stroke-linecap="round" stroke-linejoin="round"><ellipse cx="9.4" cy="11.1" rx="2.3" ry="3.1" transform="rotate(28 9.4 11.1)" stroke-width="1.9"/><path d="M12.3 9.2Q10.4 7.4 9.2 5.4Q9 4.3 10.3 4.5L12.6 5.3" stroke-width="1.6"/></g>
</defs>
<use href="#t0" x="45.29" y="187.30" fill="#000"/>
<use href="#t1" x="23.98" y="161.03" fill="#000"/>
<use href="#t2" x="23.98" y="134.77" fill="#000"/>
<use href="#t3" x="23.98" y="108.50" fill="#000"/>
<use href="#t4" x="23.98" y="82.23" fill="#000"/>
<use href="#t5" x="32.48" y="55.97" fill="#000"/>
<use href="#t6" x="23.98" y="29.70" fill="#000"/>
<use href="#t7" x="52.19" y="200.10" fill="#000"/>
<use href="#t8" x="114.29" y="200.10" fill="#000"/>
<use href="#t9" x="176.39" y="200.10" fill="#000"/>
<use href="#t0" x="243.42" y="200.10" fill="#000"/>
<use href="#t10" x="305.52" y="200.10" fill="#000"/>
<use href="#t11" x="367.62" y="200.10" fill="#000"/>
<use href="#t12" x="429.72" y="200.10" fill="#000"/>
<use href="#t0" x="45.29" y="413.35" fill="#000"/>
<use href="#t13" x="32.48" y="384.66" fill="#000"/>
<use href="#t14" x="32.48" y="355.97" fill="#000"/>
<use href="#t15" x="32.48" y="327.28" fill="#000"/>
<use href="#t16" x="32.48" y="298.59" fill="#000"/>
<use href="#t17" x="45.29" y="269.90" fill="#000"/>
<use href="#t0" x="57.12" y="426.15" fill="#000"/>
<use href="#t10" x="181.32" y="426.15" fill="#000"/>
<use href="#t11" x="305.52" y="426.15" fill="#000"/>
<use href="#t12" x="429.72" y="426.15" fill="#000"/>
<use href="#t18" transform="translate(15.80 178.60) rotate(-90) translate(0.00 0)" fill="#0000ff"/>
<use href="#t18" transform="translate(24.50 404.90) rotate(-90) translate(0.00 0)" fill="#0000ff"/>
<use href="#dz" x="236" y="203"/>
<use href="#dz" x="236" y="429"/>
<path d="M0.28 -4.16L0.03 -3.84L0.03 -3.59L-0.03 -3.53L-0.03 -2.53L0.03 -2.47L0.03 -2.22L0.16 -2.03L0.47 -1.78L0.72 -1.78L0.78 -1.72L0.84 -1.78L1.09 -1.78L1.16 -1.72L0.03 -0.28L0.03 -0.03L-0.03 0.03L0.03 0.09L0.03 0.34L0.16 0.53L0.47 0.78L0.72 0.78L0.78 0.84L3.84 0.84L3.91 0.78L4.16 0.78L4.34 0.66L4.59 0.34L4.59 0.09L4.66 0.03L4.66 -0.97L4.59 -1.03L4.59 -1.28L4.47 -1.47L4.16 -1.72L3.91 -1.72L3.84 -1.78L3.78 -1.72L3.59 -1.72L3.53 -1.78L4.53 -3.03L4.47 -3.09L4.59 -3.22L4.59 -3.47L4.66 -3.53L4.59 -3.59L4.59 -3.84L4.47 -4.03L4.16 -4.28L3.91 -4.28L3.84 -4.34L0.78 -4.34L0.72 -4.28L0.47 -4.28ZM2.97 -1.03L3.03 -0.91L2.84 -0.78L2.78 -0.84ZM1.09 -1.78L1.16 -1.84L1.22 -1.78L1.16 -1.72ZM1.59 -2.41L1.66 -2.47L1.72 -2.41L1.66 -2.34ZM1.66 -2.53L1.66 -2.66L1.72 -2.72L1.84 -2.72L1.91 -2.66L1.72 -2.47Z" fill="#0000ff" fill-rule="evenodd" transform="translate(249.93 221.06)"/>
<path d="M0.28 -4.16L0.03 -3.84L0.03 -3.59L-0.03 -3.53L-0.03 -2.53L0.03 -2.47L0.03 -2.22L0.16 -2.03L0.47 -1.78L0.72 -1.78L0.78 -1.72L0.84 -1.78L1.09 -1.78L1.16 -1.72L0.03 -0.28L0.03 -0.03L-0.03 0.03L0.03 0.09L0.03 0.34L0.16 0.53L0.47 0.78L0.72 0.78L0.78 0.84L3.84 0.84L3.91 0.78L4.16 0.78L4.34 0.66L4.59 0.34L4.59 0.09L4.66 0.03L4.66 -0.97L4.59 -1.03L4.59 -1.28L4.47 -1.47L4.16 -1.72L3.91 -1.72L3.84 -1.78L3.78 -1.72L3.59 -1.72L3.53 -1.78L4.53 -3.03L4.47 -3.09L4.59 -3.22L4.59 -3.47L4.66 -3.53L4.59 -3.59L4.59 -3.84L4.47 -4.03L4.16 -4.28L3.91 -4.28L3.84 -4.34L0.78 -4.34L0.72 -4.28L0.47 -4.28ZM2.97 -1.03L3.03 -0.91L2.84 -0.78L2.78 -0.84ZM1.09 -1.78L1.16 -1.84L1.22 -1.78L1.16 -1.72ZM1.59 -2.41L1.66 -2.47L1.72 -2.41L1.66 -2.34ZM1.66 -2.53L1.66 -2.66L1.72 -2.72L1.84 -2.72L1.91 -2.66L1.72 -2.47Z" fill="#0000ff" fill-rule="evenodd" transform="translate(249.93 446.96)"/>
</svg></body></html>
